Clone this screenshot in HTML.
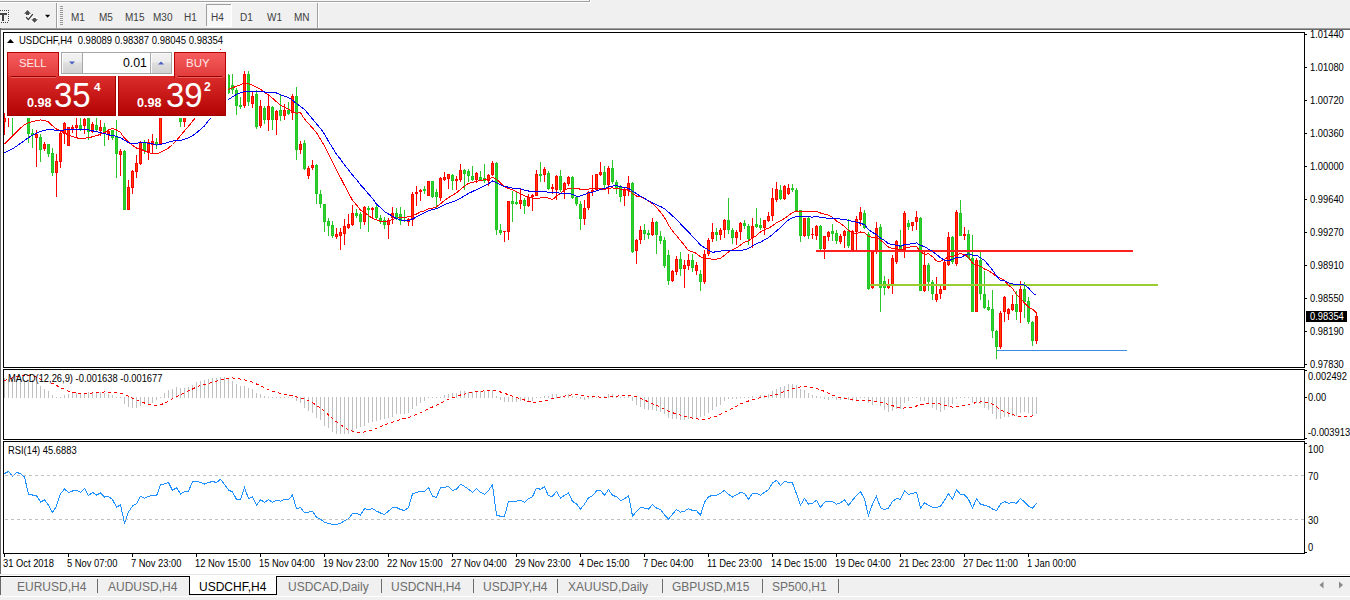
<!DOCTYPE html>
<html><head><meta charset="utf-8">
<style>
*{margin:0;padding:0;box-sizing:border-box}
html,body{width:1350px;height:600px;overflow:hidden;background:#f0f0f0;font-family:"Liberation Sans",sans-serif}
.a{position:absolute}
.ax{font-family:"Liberation Sans",sans-serif;font-size:10.3px;fill:#000}
.tf{position:absolute;top:13px;font-size:10px;color:#404040;line-height:10px;white-space:nowrap}
.tab{position:absolute;top:580px;font-size:12px;color:#6d6d6d;line-height:14px;white-space:nowrap}
.sep{position:absolute;top:579px;width:1px;height:14px;background:#6d6d6d}
</style></head><body>
<!-- top strip -->
<div class="a" style="left:0;top:0;width:590px;height:1px;background:#f7f7f7"></div>
<div class="a" style="left:0;top:1px;width:590px;height:1px;background:#a0a0a0"></div>
<div class="a" style="left:0;top:2px;width:591px;height:1px;background:#fff"></div>
<div class="a" style="left:589px;top:0;width:1px;height:2px;background:#a0a0a0"></div>
<div class="a" style="left:590px;top:0;width:1px;height:3px;background:#fff"></div>
<!-- toolbar icons -->
<svg class="a" style="left:0;top:0" width="330" height="28" viewBox="0 0 330 28">
 <g fill="#444">
  <rect x="0" y="10" width="1" height="1"/><rect x="2" y="10" width="1" height="1"/><rect x="4" y="10" width="1" height="1"/><rect x="6" y="10" width="1" height="1"/><rect x="8" y="10" width="1" height="1"/>
  <rect x="8" y="12" width="1" height="1"/><rect x="8" y="14" width="1" height="1"/><rect x="8" y="16" width="1" height="1"/><rect x="8" y="18" width="1" height="1"/><rect x="8" y="20" width="1" height="1"/>
  <rect x="1" y="22" width="1" height="1"/><rect x="3" y="22" width="1" height="1"/><rect x="5" y="22" width="1" height="1"/><rect x="7" y="22" width="1" height="1"/>
  <rect x="0" y="13" width="7" height="2"/><rect x="2" y="13" width="2" height="8"/>
 </g>
 <g fill="#fff" stroke="#fff" stroke-width="1.6" stroke-linejoin="round" opacity="0.8">
  <path d="M24,13.7 L27.5,10 L31,13.7 L29,13.7 L29,15 L26,15 L26,13.7 Z"/>
  <path d="M31.2,19.2 L33.2,19.2 L33.2,18 L35.8,18 L35.8,19.2 L38,19.2 L34.5,22.8 Z"/>
  <path d="M26.2,17.2 L28.4,19.6 L32.8,14.2" fill="none" stroke-width="3"/>
  <path d="M45,14.8 L50.2,14.8 L47.6,17.8 Z"/>
 </g>
 <g fill="#4d4d4d">
  <path d="M24,13.7 L27.5,10 L31,13.7 L29,13.7 L29,15 L26,15 L26,13.7 Z"/>
  <path d="M31.2,19.2 L33.2,19.2 L33.2,18 L35.8,18 L35.8,19.2 L38,19.2 L34.5,22.8 Z"/>
  <path d="M26.2,17.2 L28.4,19.6 L32.8,14.2" fill="none" stroke="#333" stroke-width="1.3"/>
 </g>
 <path d="M45,14.8 L50.2,14.8 L47.6,17.8 Z" fill="#000"/>
 <rect x="56" y="3" width="1" height="25" fill="#a0a0a0"/><rect x="57" y="3" width="1" height="25" fill="#fff"/>
 <g fill="#999">
  <rect x="60" y="6" width="3" height="1"/><rect x="60" y="8" width="3" height="1"/><rect x="60" y="10" width="3" height="1"/><rect x="60" y="12" width="3" height="1"/>
  <rect x="60" y="14" width="3" height="1"/><rect x="60" y="16" width="3" height="1"/><rect x="60" y="18" width="3" height="1"/><rect x="60" y="20" width="3" height="1"/>
  <rect x="60" y="22" width="3" height="1"/><rect x="60" y="24" width="3" height="1"/>
 </g>
 <rect x="206" y="4" width="26" height="23" fill="#f8f8f8"/>
 <rect x="206" y="4" width="25" height="1" fill="#a0a0a0"/><rect x="206" y="4" width="1" height="22" fill="#a0a0a0"/>
 <rect x="231" y="4" width="1" height="23" fill="#fff"/><rect x="206" y="26" width="26" height="1" fill="#fff"/>
 <rect x="317" y="3" width="1" height="25" fill="#a0a0a0"/><rect x="318" y="3" width="1" height="25" fill="#fff"/>
</svg>
<div class="tf" style="left:71px">M1</div>
<div class="tf" style="left:99px">M5</div>
<div class="tf" style="left:125px">M15</div>
<div class="tf" style="left:153px">M30</div>
<div class="tf" style="left:184px">H1</div>
<div class="tf" style="left:211px">H4</div>
<div class="tf" style="left:240px">D1</div>
<div class="tf" style="left:267px">W1</div>
<div class="tf" style="left:294px">MN</div>
<!-- chart area frame -->
<div class="a" style="left:0;top:28px;width:1350px;height:1px;background:#a0a0a0"></div>
<div class="a" style="left:0;top:29px;width:1350px;height:1px;background:#696969"></div>
<div class="a" style="left:1px;top:30px;width:1349px;height:544px;background:#fff"></div>
<div class="a" style="left:0;top:28px;width:1px;height:546px;background:#696969"></div>
<div class="a" style="left:0;top:577px;width:1px;height:18px;background:#696969"></div>
<div class="a" style="left:1px;top:574px;width:1349px;height:1px;background:#e6e6e6"></div>
<div class="a" style="left:1px;top:575px;width:1349px;height:1px;background:#fff"></div>
<div class="a" style="left:0;top:576px;width:1350px;height:1px;background:#000"></div>
<div class="a" style="left:1px;top:577px;width:1349px;height:1px;background:#fafafa"></div>
<div class="a" style="left:0;top:596px;width:1350px;height:1px;background:#fff"></div>
<svg width="1350" height="600" viewBox="0 0 1350 600" style="position:absolute;left:0;top:0">
<g shape-rendering="crispEdges">
<rect x="4" y="113" width="1" height="22" fill="#ff0000"/>
<rect x="3" y="118" width="3" height="4" fill="#ff0000"/>
<rect x="4" y="119" width="1" height="2" fill="#ff3c00"/>
<rect x="8" y="100" width="1" height="27" fill="#ff0000"/>
<rect x="7" y="105" width="3" height="9" fill="#ff0000"/>
<rect x="8" y="106" width="1" height="7" fill="#ff3c00"/>
<rect x="12" y="100" width="1" height="37" fill="#2ac82a"/>
<rect x="11" y="105" width="3" height="9" fill="#22c822"/>
<rect x="12" y="106" width="1" height="7" fill="#32cd32"/>
<rect x="16" y="90" width="1" height="22" fill="#2ac82a"/>
<rect x="15" y="95" width="3" height="13" fill="#22c822"/>
<rect x="16" y="96" width="1" height="11" fill="#32cd32"/>
<rect x="20" y="85" width="1" height="25" fill="#ff0000"/>
<rect x="19" y="92" width="3" height="13" fill="#ff0000"/>
<rect x="20" y="93" width="1" height="11" fill="#ff3c00"/>
<rect x="24" y="80" width="1" height="32" fill="#ff0000"/>
<rect x="23" y="85" width="3" height="15" fill="#ff0000"/>
<rect x="24" y="86" width="1" height="13" fill="#ff3c00"/>
<rect x="28" y="85" width="1" height="58" fill="#2ac82a"/>
<rect x="27" y="88" width="3" height="46" fill="#22c822"/>
<rect x="28" y="89" width="1" height="44" fill="#32cd32"/>
<rect x="32" y="129" width="1" height="19" fill="#2ac82a"/>
<rect x="31" y="133" width="3" height="2" fill="#22c822"/>
<rect x="36" y="130" width="1" height="37" fill="#ff0000"/>
<rect x="35" y="134" width="3" height="4" fill="#ff0000"/>
<rect x="36" y="135" width="1" height="2" fill="#ff3c00"/>
<rect x="40" y="134" width="1" height="28" fill="#2ac82a"/>
<rect x="39" y="137" width="3" height="13" fill="#22c822"/>
<rect x="40" y="138" width="1" height="11" fill="#32cd32"/>
<rect x="44" y="142" width="1" height="9" fill="#ff0000"/>
<rect x="43" y="144" width="3" height="5" fill="#ff0000"/>
<rect x="44" y="145" width="1" height="3" fill="#ff3c00"/>
<rect x="48" y="144" width="1" height="13" fill="#2ac82a"/>
<rect x="47" y="144" width="3" height="10" fill="#22c822"/>
<rect x="48" y="145" width="1" height="8" fill="#32cd32"/>
<rect x="52" y="148" width="1" height="28" fill="#2ac82a"/>
<rect x="51" y="153" width="3" height="20" fill="#22c822"/>
<rect x="52" y="154" width="1" height="18" fill="#32cd32"/>
<rect x="56" y="154" width="1" height="43" fill="#ff0000"/>
<rect x="55" y="161" width="3" height="12" fill="#ff0000"/>
<rect x="56" y="162" width="1" height="10" fill="#ff3c00"/>
<rect x="60" y="132" width="1" height="36" fill="#ff0000"/>
<rect x="59" y="133" width="3" height="29" fill="#ff0000"/>
<rect x="60" y="134" width="1" height="27" fill="#ff3c00"/>
<rect x="64" y="122" width="1" height="22" fill="#ff0000"/>
<rect x="63" y="123" width="3" height="11" fill="#ff0000"/>
<rect x="64" y="124" width="1" height="9" fill="#ff3c00"/>
<rect x="68" y="127" width="1" height="19" fill="#ff0000"/>
<rect x="67" y="127" width="3" height="19" fill="#ff0000"/>
<rect x="68" y="128" width="1" height="17" fill="#ff3c00"/>
<rect x="72" y="125" width="1" height="8" fill="#ff0000"/>
<rect x="71" y="127" width="3" height="2" fill="#ff0000"/>
<rect x="76" y="112" width="1" height="25" fill="#ff0000"/>
<rect x="75" y="125" width="3" height="3" fill="#ff0000"/>
<rect x="76" y="126" width="1" height="1" fill="#ff3c00"/>
<rect x="80" y="112" width="1" height="19" fill="#2ac82a"/>
<rect x="79" y="125" width="3" height="4" fill="#22c822"/>
<rect x="80" y="126" width="1" height="2" fill="#32cd32"/>
<rect x="84" y="112" width="1" height="22" fill="#ff0000"/>
<rect x="83" y="119" width="3" height="7" fill="#ff0000"/>
<rect x="84" y="120" width="1" height="5" fill="#ff3c00"/>
<rect x="88" y="110" width="1" height="30" fill="#2ac82a"/>
<rect x="87" y="116" width="3" height="16" fill="#22c822"/>
<rect x="88" y="117" width="1" height="14" fill="#32cd32"/>
<rect x="92" y="122" width="1" height="11" fill="#ff0000"/>
<rect x="91" y="124" width="3" height="8" fill="#ff0000"/>
<rect x="92" y="125" width="1" height="6" fill="#ff3c00"/>
<rect x="96" y="112" width="1" height="19" fill="#2ac82a"/>
<rect x="95" y="125" width="3" height="5" fill="#22c822"/>
<rect x="96" y="126" width="1" height="3" fill="#32cd32"/>
<rect x="100" y="120" width="1" height="16" fill="#ff0000"/>
<rect x="99" y="127" width="3" height="4" fill="#ff0000"/>
<rect x="100" y="128" width="1" height="2" fill="#ff3c00"/>
<rect x="104" y="123" width="1" height="23" fill="#2ac82a"/>
<rect x="103" y="127" width="3" height="7" fill="#22c822"/>
<rect x="104" y="128" width="1" height="5" fill="#32cd32"/>
<rect x="108" y="130" width="1" height="10" fill="#ff0000"/>
<rect x="107" y="131" width="3" height="3" fill="#ff0000"/>
<rect x="108" y="132" width="1" height="1" fill="#ff3c00"/>
<rect x="112" y="130" width="1" height="10" fill="#2ac82a"/>
<rect x="111" y="130" width="3" height="8" fill="#22c822"/>
<rect x="112" y="131" width="1" height="6" fill="#32cd32"/>
<rect x="116" y="120" width="1" height="58" fill="#2ac82a"/>
<rect x="115" y="136" width="3" height="18" fill="#22c822"/>
<rect x="116" y="137" width="1" height="16" fill="#32cd32"/>
<rect x="120" y="149" width="1" height="27" fill="#ff0000"/>
<rect x="119" y="151" width="3" height="4" fill="#ff0000"/>
<rect x="120" y="152" width="1" height="2" fill="#ff3c00"/>
<rect x="124" y="150" width="1" height="60" fill="#2ac82a"/>
<rect x="123" y="151" width="3" height="59" fill="#22c822"/>
<rect x="124" y="152" width="1" height="57" fill="#32cd32"/>
<rect x="128" y="180" width="1" height="30" fill="#ff0000"/>
<rect x="127" y="187" width="3" height="23" fill="#ff0000"/>
<rect x="128" y="188" width="1" height="21" fill="#ff3c00"/>
<rect x="132" y="170" width="1" height="24" fill="#ff0000"/>
<rect x="131" y="171" width="3" height="17" fill="#ff0000"/>
<rect x="132" y="172" width="1" height="15" fill="#ff3c00"/>
<rect x="136" y="155" width="1" height="23" fill="#ff0000"/>
<rect x="135" y="163" width="3" height="9" fill="#ff0000"/>
<rect x="136" y="164" width="1" height="7" fill="#ff3c00"/>
<rect x="140" y="141" width="1" height="24" fill="#ff0000"/>
<rect x="139" y="142" width="3" height="22" fill="#ff0000"/>
<rect x="140" y="143" width="1" height="20" fill="#ff3c00"/>
<rect x="144" y="140" width="1" height="14" fill="#2ac82a"/>
<rect x="143" y="142" width="3" height="9" fill="#22c822"/>
<rect x="144" y="143" width="1" height="7" fill="#32cd32"/>
<rect x="148" y="139" width="1" height="21" fill="#ff0000"/>
<rect x="147" y="142" width="3" height="10" fill="#ff0000"/>
<rect x="148" y="143" width="1" height="8" fill="#ff3c00"/>
<rect x="152" y="134" width="1" height="20" fill="#ff0000"/>
<rect x="151" y="141" width="3" height="4" fill="#ff0000"/>
<rect x="152" y="142" width="1" height="2" fill="#ff3c00"/>
<rect x="156" y="138" width="1" height="11" fill="#2ac82a"/>
<rect x="155" y="142" width="3" height="3" fill="#22c822"/>
<rect x="156" y="143" width="1" height="1" fill="#32cd32"/>
<rect x="160" y="105" width="1" height="39" fill="#ff0000"/>
<rect x="159" y="108" width="3" height="36" fill="#ff0000"/>
<rect x="160" y="109" width="1" height="34" fill="#ff3c00"/>
<rect x="164" y="100" width="1" height="18" fill="#2ac82a"/>
<rect x="163" y="104" width="3" height="8" fill="#22c822"/>
<rect x="164" y="105" width="1" height="6" fill="#32cd32"/>
<rect x="168" y="95" width="1" height="19" fill="#ff0000"/>
<rect x="167" y="100" width="3" height="10" fill="#ff0000"/>
<rect x="168" y="101" width="1" height="8" fill="#ff3c00"/>
<rect x="172" y="90" width="1" height="22" fill="#ff0000"/>
<rect x="171" y="95" width="3" height="9" fill="#ff0000"/>
<rect x="172" y="96" width="1" height="7" fill="#ff3c00"/>
<rect x="176" y="92" width="1" height="26" fill="#ff0000"/>
<rect x="175" y="96" width="3" height="12" fill="#ff0000"/>
<rect x="176" y="97" width="1" height="10" fill="#ff3c00"/>
<rect x="180" y="100" width="1" height="27" fill="#2ac82a"/>
<rect x="179" y="105" width="3" height="17" fill="#22c822"/>
<rect x="180" y="106" width="1" height="15" fill="#32cd32"/>
<rect x="184" y="100" width="1" height="27" fill="#ff0000"/>
<rect x="183" y="108" width="3" height="14" fill="#ff0000"/>
<rect x="184" y="109" width="1" height="12" fill="#ff3c00"/>
<rect x="188" y="90" width="1" height="28" fill="#ff0000"/>
<rect x="187" y="95" width="3" height="13" fill="#ff0000"/>
<rect x="188" y="96" width="1" height="11" fill="#ff3c00"/>
<rect x="192" y="80" width="1" height="25" fill="#ff0000"/>
<rect x="191" y="85" width="3" height="15" fill="#ff0000"/>
<rect x="192" y="86" width="1" height="13" fill="#ff3c00"/>
<rect x="196" y="78" width="1" height="22" fill="#2ac82a"/>
<rect x="195" y="82" width="3" height="13" fill="#22c822"/>
<rect x="196" y="83" width="1" height="11" fill="#32cd32"/>
<rect x="200" y="70" width="1" height="26" fill="#ff0000"/>
<rect x="199" y="74" width="3" height="18" fill="#ff0000"/>
<rect x="200" y="75" width="1" height="16" fill="#ff3c00"/>
<rect x="204" y="62" width="1" height="28" fill="#ff0000"/>
<rect x="203" y="66" width="3" height="14" fill="#ff0000"/>
<rect x="204" y="67" width="1" height="12" fill="#ff3c00"/>
<rect x="208" y="60" width="1" height="25" fill="#2ac82a"/>
<rect x="207" y="65" width="3" height="13" fill="#22c822"/>
<rect x="208" y="66" width="1" height="11" fill="#32cd32"/>
<rect x="212" y="55" width="1" height="27" fill="#ff0000"/>
<rect x="211" y="60" width="3" height="16" fill="#ff0000"/>
<rect x="212" y="61" width="1" height="14" fill="#ff3c00"/>
<rect x="216" y="58" width="1" height="28" fill="#2ac82a"/>
<rect x="215" y="62" width="3" height="18" fill="#22c822"/>
<rect x="216" y="63" width="1" height="16" fill="#32cd32"/>
<rect x="220" y="49" width="1" height="31" fill="#ff0000"/>
<rect x="219" y="55" width="3" height="20" fill="#ff0000"/>
<rect x="220" y="56" width="1" height="18" fill="#ff3c00"/>
<rect x="224" y="60" width="1" height="30" fill="#2ac82a"/>
<rect x="223" y="65" width="3" height="20" fill="#22c822"/>
<rect x="224" y="66" width="1" height="18" fill="#32cd32"/>
<rect x="228" y="74" width="1" height="20" fill="#2ac82a"/>
<rect x="227" y="75" width="3" height="18" fill="#22c822"/>
<rect x="228" y="76" width="1" height="16" fill="#32cd32"/>
<rect x="232" y="74" width="1" height="20" fill="#2ac82a"/>
<rect x="231" y="85" width="3" height="5" fill="#22c822"/>
<rect x="232" y="86" width="1" height="3" fill="#32cd32"/>
<rect x="236" y="88" width="1" height="27" fill="#2ac82a"/>
<rect x="235" y="90" width="3" height="16" fill="#22c822"/>
<rect x="236" y="91" width="1" height="14" fill="#32cd32"/>
<rect x="240" y="97" width="1" height="12" fill="#2ac82a"/>
<rect x="239" y="105" width="3" height="2" fill="#22c822"/>
<rect x="244" y="71" width="1" height="37" fill="#ff0000"/>
<rect x="243" y="74" width="3" height="32" fill="#ff0000"/>
<rect x="244" y="75" width="1" height="30" fill="#ff3c00"/>
<rect x="248" y="71" width="1" height="35" fill="#2ac82a"/>
<rect x="247" y="74" width="3" height="28" fill="#22c822"/>
<rect x="248" y="75" width="1" height="26" fill="#32cd32"/>
<rect x="252" y="91" width="1" height="17" fill="#ff0000"/>
<rect x="251" y="96" width="3" height="8" fill="#ff0000"/>
<rect x="252" y="97" width="1" height="6" fill="#ff3c00"/>
<rect x="256" y="90" width="1" height="39" fill="#2ac82a"/>
<rect x="255" y="94" width="3" height="33" fill="#22c822"/>
<rect x="256" y="95" width="1" height="31" fill="#32cd32"/>
<rect x="260" y="100" width="1" height="28" fill="#ff0000"/>
<rect x="259" y="106" width="3" height="20" fill="#ff0000"/>
<rect x="260" y="107" width="1" height="18" fill="#ff3c00"/>
<rect x="264" y="106" width="1" height="18" fill="#2ac82a"/>
<rect x="263" y="108" width="3" height="12" fill="#22c822"/>
<rect x="264" y="109" width="1" height="10" fill="#32cd32"/>
<rect x="268" y="95" width="1" height="36" fill="#ff0000"/>
<rect x="267" y="106" width="3" height="14" fill="#ff0000"/>
<rect x="268" y="107" width="1" height="12" fill="#ff3c00"/>
<rect x="272" y="106" width="1" height="24" fill="#2ac82a"/>
<rect x="271" y="107" width="3" height="13" fill="#22c822"/>
<rect x="272" y="108" width="1" height="11" fill="#32cd32"/>
<rect x="276" y="110" width="1" height="25" fill="#ff0000"/>
<rect x="275" y="111" width="3" height="9" fill="#ff0000"/>
<rect x="276" y="112" width="1" height="7" fill="#ff3c00"/>
<rect x="280" y="95" width="1" height="26" fill="#2ac82a"/>
<rect x="279" y="110" width="3" height="6" fill="#22c822"/>
<rect x="280" y="111" width="1" height="4" fill="#32cd32"/>
<rect x="284" y="104" width="1" height="16" fill="#ff0000"/>
<rect x="283" y="110" width="3" height="6" fill="#ff0000"/>
<rect x="284" y="111" width="1" height="4" fill="#ff3c00"/>
<rect x="288" y="102" width="1" height="13" fill="#2ac82a"/>
<rect x="287" y="110" width="3" height="4" fill="#22c822"/>
<rect x="288" y="111" width="1" height="2" fill="#32cd32"/>
<rect x="292" y="94" width="1" height="26" fill="#ff0000"/>
<rect x="291" y="96" width="3" height="17" fill="#ff0000"/>
<rect x="292" y="97" width="1" height="15" fill="#ff3c00"/>
<rect x="296" y="87" width="1" height="73" fill="#2ac82a"/>
<rect x="295" y="96" width="3" height="54" fill="#22c822"/>
<rect x="296" y="97" width="1" height="52" fill="#32cd32"/>
<rect x="300" y="141" width="1" height="13" fill="#ff0000"/>
<rect x="299" y="144" width="3" height="6" fill="#ff0000"/>
<rect x="300" y="145" width="1" height="4" fill="#ff3c00"/>
<rect x="304" y="140" width="1" height="30" fill="#2ac82a"/>
<rect x="303" y="143" width="3" height="26" fill="#22c822"/>
<rect x="304" y="144" width="1" height="24" fill="#32cd32"/>
<rect x="308" y="166" width="1" height="13" fill="#ff0000"/>
<rect x="307" y="168" width="3" height="8" fill="#ff0000"/>
<rect x="308" y="169" width="1" height="6" fill="#ff3c00"/>
<rect x="312" y="160" width="1" height="10" fill="#ff0000"/>
<rect x="311" y="165" width="3" height="3" fill="#ff0000"/>
<rect x="312" y="166" width="1" height="1" fill="#ff3c00"/>
<rect x="316" y="164" width="1" height="40" fill="#2ac82a"/>
<rect x="315" y="165" width="3" height="29" fill="#22c822"/>
<rect x="316" y="166" width="1" height="27" fill="#32cd32"/>
<rect x="320" y="190" width="1" height="18" fill="#2ac82a"/>
<rect x="319" y="194" width="3" height="10" fill="#22c822"/>
<rect x="320" y="195" width="1" height="8" fill="#32cd32"/>
<rect x="324" y="204" width="1" height="28" fill="#2ac82a"/>
<rect x="323" y="204" width="3" height="18" fill="#22c822"/>
<rect x="324" y="205" width="1" height="16" fill="#32cd32"/>
<rect x="328" y="218" width="1" height="18" fill="#2ac82a"/>
<rect x="327" y="221" width="3" height="5" fill="#22c822"/>
<rect x="328" y="222" width="1" height="3" fill="#32cd32"/>
<rect x="332" y="221" width="1" height="17" fill="#2ac82a"/>
<rect x="331" y="225" width="3" height="11" fill="#22c822"/>
<rect x="332" y="226" width="1" height="9" fill="#32cd32"/>
<rect x="336" y="228" width="1" height="11" fill="#ff0000"/>
<rect x="335" y="234" width="3" height="3" fill="#ff0000"/>
<rect x="336" y="235" width="1" height="1" fill="#ff3c00"/>
<rect x="340" y="228" width="1" height="22" fill="#ff0000"/>
<rect x="339" y="232" width="3" height="4" fill="#ff0000"/>
<rect x="340" y="233" width="1" height="2" fill="#ff3c00"/>
<rect x="344" y="219" width="1" height="26" fill="#ff0000"/>
<rect x="343" y="226" width="3" height="8" fill="#ff0000"/>
<rect x="344" y="227" width="1" height="6" fill="#ff3c00"/>
<rect x="348" y="214" width="1" height="15" fill="#ff0000"/>
<rect x="347" y="224" width="3" height="4" fill="#ff0000"/>
<rect x="348" y="225" width="1" height="2" fill="#ff3c00"/>
<rect x="352" y="205" width="1" height="21" fill="#ff0000"/>
<rect x="351" y="213" width="3" height="12" fill="#ff0000"/>
<rect x="352" y="214" width="1" height="10" fill="#ff3c00"/>
<rect x="356" y="209" width="1" height="9" fill="#2ac82a"/>
<rect x="355" y="213" width="3" height="3" fill="#22c822"/>
<rect x="356" y="214" width="1" height="1" fill="#32cd32"/>
<rect x="360" y="212" width="1" height="17" fill="#2ac82a"/>
<rect x="359" y="214" width="3" height="8" fill="#22c822"/>
<rect x="360" y="215" width="1" height="6" fill="#32cd32"/>
<rect x="364" y="206" width="1" height="19" fill="#ff0000"/>
<rect x="363" y="207" width="3" height="15" fill="#ff0000"/>
<rect x="364" y="208" width="1" height="13" fill="#ff3c00"/>
<rect x="368" y="206" width="1" height="26" fill="#2ac82a"/>
<rect x="367" y="208" width="3" height="2" fill="#22c822"/>
<rect x="372" y="207" width="1" height="11" fill="#ff0000"/>
<rect x="371" y="208" width="3" height="2" fill="#ff0000"/>
<rect x="376" y="205" width="1" height="15" fill="#2ac82a"/>
<rect x="375" y="207" width="3" height="11" fill="#22c822"/>
<rect x="376" y="208" width="1" height="9" fill="#32cd32"/>
<rect x="380" y="215" width="1" height="9" fill="#2ac82a"/>
<rect x="379" y="218" width="3" height="4" fill="#22c822"/>
<rect x="380" y="219" width="1" height="2" fill="#32cd32"/>
<rect x="384" y="217" width="1" height="12" fill="#2ac82a"/>
<rect x="383" y="220" width="3" height="5" fill="#22c822"/>
<rect x="384" y="221" width="1" height="3" fill="#32cd32"/>
<rect x="388" y="218" width="1" height="21" fill="#ff0000"/>
<rect x="387" y="220" width="3" height="5" fill="#ff0000"/>
<rect x="388" y="221" width="1" height="3" fill="#ff3c00"/>
<rect x="392" y="207" width="1" height="17" fill="#ff0000"/>
<rect x="391" y="213" width="3" height="5" fill="#ff0000"/>
<rect x="392" y="214" width="1" height="3" fill="#ff3c00"/>
<rect x="396" y="208" width="1" height="12" fill="#2ac82a"/>
<rect x="395" y="213" width="3" height="5" fill="#22c822"/>
<rect x="396" y="214" width="1" height="3" fill="#32cd32"/>
<rect x="400" y="207" width="1" height="18" fill="#2ac82a"/>
<rect x="399" y="214" width="3" height="7" fill="#22c822"/>
<rect x="400" y="215" width="1" height="5" fill="#32cd32"/>
<rect x="404" y="210" width="1" height="12" fill="#2ac82a"/>
<rect x="403" y="220" width="3" height="1" fill="#22c822"/>
<rect x="408" y="218" width="1" height="8" fill="#ff0000"/>
<rect x="407" y="219" width="3" height="3" fill="#ff0000"/>
<rect x="408" y="220" width="1" height="1" fill="#ff3c00"/>
<rect x="412" y="192" width="1" height="34" fill="#ff0000"/>
<rect x="411" y="194" width="3" height="26" fill="#ff0000"/>
<rect x="412" y="195" width="1" height="24" fill="#ff3c00"/>
<rect x="416" y="186" width="1" height="20" fill="#ff0000"/>
<rect x="415" y="192" width="3" height="2" fill="#ff0000"/>
<rect x="420" y="189" width="1" height="12" fill="#ff0000"/>
<rect x="419" y="190" width="3" height="2" fill="#ff0000"/>
<rect x="424" y="186" width="1" height="8" fill="#2ac82a"/>
<rect x="423" y="189" width="3" height="2" fill="#22c822"/>
<rect x="428" y="181" width="1" height="15" fill="#ff0000"/>
<rect x="427" y="181" width="3" height="15" fill="#ff0000"/>
<rect x="428" y="182" width="1" height="13" fill="#ff3c00"/>
<rect x="432" y="181" width="1" height="17" fill="#2ac82a"/>
<rect x="431" y="181" width="3" height="16" fill="#22c822"/>
<rect x="432" y="182" width="1" height="14" fill="#32cd32"/>
<rect x="436" y="189" width="1" height="19" fill="#2ac82a"/>
<rect x="435" y="192" width="3" height="5" fill="#22c822"/>
<rect x="436" y="193" width="1" height="3" fill="#32cd32"/>
<rect x="440" y="177" width="1" height="24" fill="#ff0000"/>
<rect x="439" y="178" width="3" height="20" fill="#ff0000"/>
<rect x="440" y="179" width="1" height="18" fill="#ff3c00"/>
<rect x="444" y="172" width="1" height="9" fill="#ff0000"/>
<rect x="443" y="177" width="3" height="3" fill="#ff0000"/>
<rect x="444" y="178" width="1" height="1" fill="#ff3c00"/>
<rect x="448" y="174" width="1" height="15" fill="#ff0000"/>
<rect x="447" y="174" width="3" height="5" fill="#ff0000"/>
<rect x="448" y="175" width="1" height="3" fill="#ff3c00"/>
<rect x="452" y="174" width="1" height="16" fill="#2ac82a"/>
<rect x="451" y="175" width="3" height="6" fill="#22c822"/>
<rect x="452" y="176" width="1" height="4" fill="#32cd32"/>
<rect x="456" y="176" width="1" height="14" fill="#ff0000"/>
<rect x="455" y="179" width="3" height="2" fill="#ff0000"/>
<rect x="460" y="164" width="1" height="18" fill="#ff0000"/>
<rect x="459" y="170" width="3" height="10" fill="#ff0000"/>
<rect x="460" y="171" width="1" height="8" fill="#ff3c00"/>
<rect x="464" y="169" width="1" height="21" fill="#2ac82a"/>
<rect x="463" y="170" width="3" height="4" fill="#22c822"/>
<rect x="464" y="171" width="1" height="2" fill="#32cd32"/>
<rect x="468" y="169" width="1" height="13" fill="#2ac82a"/>
<rect x="467" y="171" width="3" height="5" fill="#22c822"/>
<rect x="468" y="172" width="1" height="3" fill="#32cd32"/>
<rect x="472" y="166" width="1" height="15" fill="#2ac82a"/>
<rect x="471" y="176" width="3" height="4" fill="#22c822"/>
<rect x="472" y="177" width="1" height="2" fill="#32cd32"/>
<rect x="476" y="172" width="1" height="11" fill="#ff0000"/>
<rect x="475" y="173" width="3" height="7" fill="#ff0000"/>
<rect x="476" y="174" width="1" height="5" fill="#ff3c00"/>
<rect x="480" y="171" width="1" height="10" fill="#2ac82a"/>
<rect x="479" y="177" width="3" height="3" fill="#22c822"/>
<rect x="480" y="178" width="1" height="1" fill="#32cd32"/>
<rect x="484" y="164" width="1" height="19" fill="#2ac82a"/>
<rect x="483" y="178" width="3" height="3" fill="#22c822"/>
<rect x="484" y="179" width="1" height="1" fill="#32cd32"/>
<rect x="488" y="174" width="1" height="12" fill="#ff0000"/>
<rect x="487" y="175" width="3" height="6" fill="#ff0000"/>
<rect x="488" y="176" width="1" height="4" fill="#ff3c00"/>
<rect x="492" y="161" width="1" height="15" fill="#ff0000"/>
<rect x="491" y="163" width="3" height="12" fill="#ff0000"/>
<rect x="492" y="164" width="1" height="10" fill="#ff3c00"/>
<rect x="496" y="162" width="1" height="73" fill="#2ac82a"/>
<rect x="495" y="163" width="3" height="67" fill="#22c822"/>
<rect x="496" y="164" width="1" height="65" fill="#32cd32"/>
<rect x="500" y="224" width="1" height="11" fill="#2ac82a"/>
<rect x="499" y="230" width="3" height="3" fill="#22c822"/>
<rect x="500" y="231" width="1" height="1" fill="#32cd32"/>
<rect x="504" y="231" width="1" height="11" fill="#ff0000"/>
<rect x="503" y="231" width="3" height="1" fill="#ff0000"/>
<rect x="508" y="201" width="1" height="39" fill="#ff0000"/>
<rect x="507" y="201" width="3" height="31" fill="#ff0000"/>
<rect x="508" y="202" width="1" height="29" fill="#ff3c00"/>
<rect x="512" y="191" width="1" height="31" fill="#2ac82a"/>
<rect x="511" y="201" width="3" height="3" fill="#22c822"/>
<rect x="512" y="202" width="1" height="1" fill="#32cd32"/>
<rect x="516" y="192" width="1" height="13" fill="#2ac82a"/>
<rect x="515" y="202" width="3" height="2" fill="#22c822"/>
<rect x="520" y="189" width="1" height="20" fill="#ff0000"/>
<rect x="519" y="200" width="3" height="4" fill="#ff0000"/>
<rect x="520" y="201" width="1" height="2" fill="#ff3c00"/>
<rect x="524" y="198" width="1" height="16" fill="#2ac82a"/>
<rect x="523" y="200" width="3" height="6" fill="#22c822"/>
<rect x="524" y="201" width="1" height="4" fill="#32cd32"/>
<rect x="528" y="194" width="1" height="13" fill="#ff0000"/>
<rect x="527" y="197" width="3" height="9" fill="#ff0000"/>
<rect x="528" y="198" width="1" height="7" fill="#ff3c00"/>
<rect x="532" y="194" width="1" height="17" fill="#ff0000"/>
<rect x="531" y="195" width="3" height="2" fill="#ff0000"/>
<rect x="536" y="170" width="1" height="26" fill="#ff0000"/>
<rect x="535" y="174" width="3" height="22" fill="#ff0000"/>
<rect x="536" y="175" width="1" height="20" fill="#ff3c00"/>
<rect x="540" y="162" width="1" height="20" fill="#2ac82a"/>
<rect x="539" y="174" width="3" height="2" fill="#22c822"/>
<rect x="544" y="167" width="1" height="15" fill="#ff0000"/>
<rect x="543" y="169" width="3" height="6" fill="#ff0000"/>
<rect x="544" y="170" width="1" height="4" fill="#ff3c00"/>
<rect x="548" y="171" width="1" height="19" fill="#2ac82a"/>
<rect x="547" y="173" width="3" height="16" fill="#22c822"/>
<rect x="548" y="174" width="1" height="14" fill="#32cd32"/>
<rect x="552" y="184" width="1" height="10" fill="#ff0000"/>
<rect x="551" y="187" width="3" height="2" fill="#ff0000"/>
<rect x="556" y="175" width="1" height="25" fill="#ff0000"/>
<rect x="555" y="176" width="3" height="14" fill="#ff0000"/>
<rect x="556" y="177" width="1" height="12" fill="#ff3c00"/>
<rect x="560" y="170" width="1" height="22" fill="#2ac82a"/>
<rect x="559" y="176" width="3" height="14" fill="#22c822"/>
<rect x="560" y="177" width="1" height="12" fill="#32cd32"/>
<rect x="564" y="182" width="1" height="17" fill="#ff0000"/>
<rect x="563" y="183" width="3" height="7" fill="#ff0000"/>
<rect x="564" y="184" width="1" height="5" fill="#ff3c00"/>
<rect x="568" y="176" width="1" height="10" fill="#ff0000"/>
<rect x="567" y="177" width="3" height="7" fill="#ff0000"/>
<rect x="568" y="178" width="1" height="5" fill="#ff3c00"/>
<rect x="572" y="176" width="1" height="23" fill="#2ac82a"/>
<rect x="571" y="177" width="3" height="21" fill="#22c822"/>
<rect x="572" y="178" width="1" height="19" fill="#32cd32"/>
<rect x="576" y="196" width="1" height="10" fill="#2ac82a"/>
<rect x="575" y="197" width="3" height="7" fill="#22c822"/>
<rect x="576" y="198" width="1" height="5" fill="#32cd32"/>
<rect x="580" y="201" width="1" height="29" fill="#2ac82a"/>
<rect x="579" y="204" width="3" height="15" fill="#22c822"/>
<rect x="580" y="205" width="1" height="13" fill="#32cd32"/>
<rect x="584" y="200" width="1" height="25" fill="#ff0000"/>
<rect x="583" y="208" width="3" height="11" fill="#ff0000"/>
<rect x="584" y="209" width="1" height="9" fill="#ff3c00"/>
<rect x="588" y="191" width="1" height="19" fill="#ff0000"/>
<rect x="587" y="192" width="3" height="16" fill="#ff0000"/>
<rect x="588" y="193" width="1" height="14" fill="#ff3c00"/>
<rect x="592" y="175" width="1" height="21" fill="#ff0000"/>
<rect x="591" y="190" width="3" height="2" fill="#ff0000"/>
<rect x="596" y="174" width="1" height="17" fill="#ff0000"/>
<rect x="595" y="174" width="3" height="16" fill="#ff0000"/>
<rect x="596" y="175" width="1" height="14" fill="#ff3c00"/>
<rect x="600" y="162" width="1" height="14" fill="#ff0000"/>
<rect x="599" y="172" width="3" height="3" fill="#ff0000"/>
<rect x="600" y="173" width="1" height="1" fill="#ff3c00"/>
<rect x="604" y="166" width="1" height="23" fill="#2ac82a"/>
<rect x="603" y="172" width="3" height="13" fill="#22c822"/>
<rect x="604" y="173" width="1" height="11" fill="#32cd32"/>
<rect x="608" y="166" width="1" height="28" fill="#ff0000"/>
<rect x="607" y="168" width="3" height="17" fill="#ff0000"/>
<rect x="608" y="169" width="1" height="15" fill="#ff3c00"/>
<rect x="612" y="160" width="1" height="24" fill="#2ac82a"/>
<rect x="611" y="168" width="3" height="14" fill="#22c822"/>
<rect x="612" y="169" width="1" height="12" fill="#32cd32"/>
<rect x="616" y="180" width="1" height="14" fill="#2ac82a"/>
<rect x="615" y="182" width="3" height="6" fill="#22c822"/>
<rect x="616" y="183" width="1" height="4" fill="#32cd32"/>
<rect x="620" y="185" width="1" height="17" fill="#2ac82a"/>
<rect x="619" y="187" width="3" height="10" fill="#22c822"/>
<rect x="620" y="188" width="1" height="8" fill="#32cd32"/>
<rect x="624" y="187" width="1" height="19" fill="#ff0000"/>
<rect x="623" y="190" width="3" height="6" fill="#ff0000"/>
<rect x="624" y="191" width="1" height="4" fill="#ff3c00"/>
<rect x="628" y="176" width="1" height="20" fill="#ff0000"/>
<rect x="627" y="183" width="3" height="8" fill="#ff0000"/>
<rect x="628" y="184" width="1" height="6" fill="#ff3c00"/>
<rect x="632" y="182" width="1" height="71" fill="#2ac82a"/>
<rect x="631" y="183" width="3" height="69" fill="#22c822"/>
<rect x="632" y="184" width="1" height="67" fill="#32cd32"/>
<rect x="636" y="239" width="1" height="25" fill="#ff0000"/>
<rect x="635" y="240" width="3" height="11" fill="#ff0000"/>
<rect x="636" y="241" width="1" height="9" fill="#ff3c00"/>
<rect x="640" y="226" width="1" height="18" fill="#ff0000"/>
<rect x="639" y="230" width="3" height="10" fill="#ff0000"/>
<rect x="640" y="231" width="1" height="8" fill="#ff3c00"/>
<rect x="644" y="224" width="1" height="16" fill="#2ac82a"/>
<rect x="643" y="230" width="3" height="4" fill="#22c822"/>
<rect x="644" y="231" width="1" height="2" fill="#32cd32"/>
<rect x="648" y="230" width="1" height="9" fill="#2ac82a"/>
<rect x="647" y="233" width="3" height="2" fill="#22c822"/>
<rect x="652" y="218" width="1" height="18" fill="#ff0000"/>
<rect x="651" y="222" width="3" height="13" fill="#ff0000"/>
<rect x="652" y="223" width="1" height="11" fill="#ff3c00"/>
<rect x="656" y="221" width="1" height="33" fill="#2ac82a"/>
<rect x="655" y="222" width="3" height="13" fill="#22c822"/>
<rect x="656" y="223" width="1" height="11" fill="#32cd32"/>
<rect x="660" y="231" width="1" height="13" fill="#2ac82a"/>
<rect x="659" y="236" width="3" height="5" fill="#22c822"/>
<rect x="660" y="237" width="1" height="3" fill="#32cd32"/>
<rect x="664" y="237" width="1" height="31" fill="#2ac82a"/>
<rect x="663" y="240" width="3" height="26" fill="#22c822"/>
<rect x="664" y="241" width="1" height="24" fill="#32cd32"/>
<rect x="668" y="250" width="1" height="35" fill="#2ac82a"/>
<rect x="667" y="255" width="3" height="26" fill="#22c822"/>
<rect x="668" y="256" width="1" height="24" fill="#32cd32"/>
<rect x="672" y="270" width="1" height="12" fill="#ff0000"/>
<rect x="671" y="271" width="3" height="10" fill="#ff0000"/>
<rect x="672" y="272" width="1" height="8" fill="#ff3c00"/>
<rect x="676" y="256" width="1" height="19" fill="#ff0000"/>
<rect x="675" y="259" width="3" height="13" fill="#ff0000"/>
<rect x="676" y="260" width="1" height="11" fill="#ff3c00"/>
<rect x="680" y="252" width="1" height="24" fill="#2ac82a"/>
<rect x="679" y="259" width="3" height="10" fill="#22c822"/>
<rect x="680" y="260" width="1" height="8" fill="#32cd32"/>
<rect x="684" y="260" width="1" height="28" fill="#ff0000"/>
<rect x="683" y="265" width="3" height="4" fill="#ff0000"/>
<rect x="684" y="266" width="1" height="2" fill="#ff3c00"/>
<rect x="688" y="254" width="1" height="16" fill="#ff0000"/>
<rect x="687" y="260" width="3" height="6" fill="#ff0000"/>
<rect x="688" y="261" width="1" height="4" fill="#ff3c00"/>
<rect x="692" y="254" width="1" height="18" fill="#2ac82a"/>
<rect x="691" y="260" width="3" height="8" fill="#22c822"/>
<rect x="692" y="261" width="1" height="6" fill="#32cd32"/>
<rect x="696" y="262" width="1" height="13" fill="#ff0000"/>
<rect x="695" y="265" width="3" height="6" fill="#ff0000"/>
<rect x="696" y="266" width="1" height="4" fill="#ff3c00"/>
<rect x="700" y="270" width="1" height="21" fill="#2ac82a"/>
<rect x="699" y="274" width="3" height="8" fill="#22c822"/>
<rect x="700" y="275" width="1" height="6" fill="#32cd32"/>
<rect x="704" y="250" width="1" height="34" fill="#ff0000"/>
<rect x="703" y="254" width="3" height="28" fill="#ff0000"/>
<rect x="704" y="255" width="1" height="26" fill="#ff3c00"/>
<rect x="708" y="238" width="1" height="18" fill="#ff0000"/>
<rect x="707" y="240" width="3" height="14" fill="#ff0000"/>
<rect x="708" y="241" width="1" height="12" fill="#ff3c00"/>
<rect x="712" y="223" width="1" height="19" fill="#ff0000"/>
<rect x="711" y="232" width="3" height="7" fill="#ff0000"/>
<rect x="712" y="233" width="1" height="5" fill="#ff3c00"/>
<rect x="716" y="228" width="1" height="13" fill="#2ac82a"/>
<rect x="715" y="232" width="3" height="3" fill="#22c822"/>
<rect x="716" y="233" width="1" height="1" fill="#32cd32"/>
<rect x="720" y="228" width="1" height="12" fill="#ff0000"/>
<rect x="719" y="230" width="3" height="5" fill="#ff0000"/>
<rect x="720" y="231" width="1" height="3" fill="#ff3c00"/>
<rect x="724" y="219" width="1" height="19" fill="#ff0000"/>
<rect x="723" y="220" width="3" height="10" fill="#ff0000"/>
<rect x="724" y="221" width="1" height="8" fill="#ff3c00"/>
<rect x="728" y="198" width="1" height="36" fill="#2ac82a"/>
<rect x="727" y="220" width="3" height="10" fill="#22c822"/>
<rect x="728" y="221" width="1" height="8" fill="#32cd32"/>
<rect x="732" y="228" width="1" height="16" fill="#2ac82a"/>
<rect x="731" y="230" width="3" height="8" fill="#22c822"/>
<rect x="732" y="231" width="1" height="6" fill="#32cd32"/>
<rect x="736" y="230" width="1" height="15" fill="#ff0000"/>
<rect x="735" y="232" width="3" height="6" fill="#ff0000"/>
<rect x="736" y="233" width="1" height="4" fill="#ff3c00"/>
<rect x="740" y="222" width="1" height="18" fill="#ff0000"/>
<rect x="739" y="223" width="3" height="9" fill="#ff0000"/>
<rect x="740" y="224" width="1" height="7" fill="#ff3c00"/>
<rect x="744" y="220" width="1" height="9" fill="#2ac82a"/>
<rect x="743" y="223" width="3" height="3" fill="#22c822"/>
<rect x="744" y="224" width="1" height="1" fill="#32cd32"/>
<rect x="748" y="224" width="1" height="21" fill="#2ac82a"/>
<rect x="747" y="226" width="3" height="13" fill="#22c822"/>
<rect x="748" y="227" width="1" height="11" fill="#32cd32"/>
<rect x="752" y="218" width="1" height="30" fill="#ff0000"/>
<rect x="751" y="226" width="3" height="12" fill="#ff0000"/>
<rect x="752" y="227" width="1" height="10" fill="#ff3c00"/>
<rect x="756" y="208" width="1" height="20" fill="#2ac82a"/>
<rect x="755" y="224" width="3" height="3" fill="#22c822"/>
<rect x="756" y="225" width="1" height="1" fill="#32cd32"/>
<rect x="760" y="218" width="1" height="12" fill="#2ac82a"/>
<rect x="759" y="225" width="3" height="3" fill="#22c822"/>
<rect x="760" y="226" width="1" height="1" fill="#32cd32"/>
<rect x="764" y="220" width="1" height="15" fill="#ff0000"/>
<rect x="763" y="220" width="3" height="8" fill="#ff0000"/>
<rect x="764" y="221" width="1" height="6" fill="#ff3c00"/>
<rect x="768" y="212" width="1" height="10" fill="#ff0000"/>
<rect x="767" y="216" width="3" height="5" fill="#ff0000"/>
<rect x="768" y="217" width="1" height="3" fill="#ff3c00"/>
<rect x="772" y="188" width="1" height="33" fill="#ff0000"/>
<rect x="771" y="198" width="3" height="18" fill="#ff0000"/>
<rect x="772" y="199" width="1" height="16" fill="#ff3c00"/>
<rect x="776" y="182" width="1" height="20" fill="#ff0000"/>
<rect x="775" y="189" width="3" height="11" fill="#ff0000"/>
<rect x="776" y="190" width="1" height="9" fill="#ff3c00"/>
<rect x="780" y="185" width="1" height="15" fill="#2ac82a"/>
<rect x="779" y="190" width="3" height="9" fill="#22c822"/>
<rect x="780" y="191" width="1" height="7" fill="#32cd32"/>
<rect x="784" y="185" width="1" height="15" fill="#ff0000"/>
<rect x="783" y="186" width="3" height="13" fill="#ff0000"/>
<rect x="784" y="187" width="1" height="11" fill="#ff3c00"/>
<rect x="788" y="184" width="1" height="11" fill="#ff0000"/>
<rect x="787" y="188" width="3" height="6" fill="#ff0000"/>
<rect x="788" y="189" width="1" height="4" fill="#ff3c00"/>
<rect x="792" y="184" width="1" height="8" fill="#2ac82a"/>
<rect x="791" y="188" width="3" height="2" fill="#22c822"/>
<rect x="796" y="188" width="1" height="24" fill="#2ac82a"/>
<rect x="795" y="190" width="3" height="21" fill="#22c822"/>
<rect x="796" y="191" width="1" height="19" fill="#32cd32"/>
<rect x="800" y="210" width="1" height="32" fill="#2ac82a"/>
<rect x="799" y="210" width="3" height="26" fill="#22c822"/>
<rect x="800" y="211" width="1" height="24" fill="#32cd32"/>
<rect x="804" y="218" width="1" height="19" fill="#ff0000"/>
<rect x="803" y="218" width="3" height="18" fill="#ff0000"/>
<rect x="804" y="219" width="1" height="16" fill="#ff3c00"/>
<rect x="808" y="217" width="1" height="22" fill="#2ac82a"/>
<rect x="807" y="218" width="3" height="18" fill="#22c822"/>
<rect x="808" y="219" width="1" height="16" fill="#32cd32"/>
<rect x="812" y="228" width="1" height="11" fill="#ff0000"/>
<rect x="811" y="234" width="3" height="1" fill="#ff0000"/>
<rect x="816" y="225" width="1" height="15" fill="#ff0000"/>
<rect x="815" y="226" width="3" height="10" fill="#ff0000"/>
<rect x="816" y="227" width="1" height="8" fill="#ff3c00"/>
<rect x="820" y="225" width="1" height="25" fill="#2ac82a"/>
<rect x="819" y="226" width="3" height="23" fill="#22c822"/>
<rect x="820" y="227" width="1" height="21" fill="#32cd32"/>
<rect x="824" y="236" width="1" height="23" fill="#ff0000"/>
<rect x="823" y="236" width="3" height="13" fill="#ff0000"/>
<rect x="824" y="237" width="1" height="11" fill="#ff3c00"/>
<rect x="828" y="231" width="1" height="10" fill="#ff0000"/>
<rect x="827" y="232" width="3" height="5" fill="#ff0000"/>
<rect x="828" y="233" width="1" height="3" fill="#ff3c00"/>
<rect x="832" y="224" width="1" height="17" fill="#2ac82a"/>
<rect x="831" y="231" width="3" height="3" fill="#22c822"/>
<rect x="832" y="232" width="1" height="1" fill="#32cd32"/>
<rect x="836" y="230" width="1" height="14" fill="#2ac82a"/>
<rect x="835" y="233" width="3" height="8" fill="#22c822"/>
<rect x="836" y="234" width="1" height="6" fill="#32cd32"/>
<rect x="840" y="234" width="1" height="10" fill="#ff0000"/>
<rect x="839" y="236" width="3" height="6" fill="#ff0000"/>
<rect x="840" y="237" width="1" height="4" fill="#ff3c00"/>
<rect x="844" y="230" width="1" height="18" fill="#ff0000"/>
<rect x="843" y="231" width="3" height="5" fill="#ff0000"/>
<rect x="844" y="232" width="1" height="3" fill="#ff3c00"/>
<rect x="848" y="219" width="1" height="29" fill="#2ac82a"/>
<rect x="847" y="231" width="3" height="15" fill="#22c822"/>
<rect x="848" y="232" width="1" height="13" fill="#32cd32"/>
<rect x="852" y="230" width="1" height="22" fill="#ff0000"/>
<rect x="851" y="231" width="3" height="19" fill="#ff0000"/>
<rect x="852" y="232" width="1" height="17" fill="#ff3c00"/>
<rect x="856" y="216" width="1" height="34" fill="#ff0000"/>
<rect x="855" y="219" width="3" height="13" fill="#ff0000"/>
<rect x="856" y="220" width="1" height="11" fill="#ff3c00"/>
<rect x="860" y="207" width="1" height="19" fill="#ff0000"/>
<rect x="859" y="212" width="3" height="8" fill="#ff0000"/>
<rect x="860" y="213" width="1" height="6" fill="#ff3c00"/>
<rect x="864" y="210" width="1" height="19" fill="#2ac82a"/>
<rect x="863" y="213" width="3" height="15" fill="#22c822"/>
<rect x="864" y="214" width="1" height="13" fill="#32cd32"/>
<rect x="868" y="232" width="1" height="58" fill="#2ac82a"/>
<rect x="867" y="234" width="3" height="55" fill="#22c822"/>
<rect x="868" y="235" width="1" height="53" fill="#32cd32"/>
<rect x="872" y="251" width="1" height="38" fill="#ff0000"/>
<rect x="871" y="252" width="3" height="36" fill="#ff0000"/>
<rect x="872" y="253" width="1" height="34" fill="#ff3c00"/>
<rect x="876" y="222" width="1" height="32" fill="#ff0000"/>
<rect x="875" y="228" width="3" height="24" fill="#ff0000"/>
<rect x="876" y="229" width="1" height="22" fill="#ff3c00"/>
<rect x="880" y="224" width="1" height="88" fill="#2ac82a"/>
<rect x="879" y="227" width="3" height="61" fill="#22c822"/>
<rect x="880" y="228" width="1" height="59" fill="#32cd32"/>
<rect x="884" y="276" width="1" height="19" fill="#2ac82a"/>
<rect x="883" y="281" width="3" height="7" fill="#22c822"/>
<rect x="884" y="282" width="1" height="5" fill="#32cd32"/>
<rect x="888" y="279" width="1" height="10" fill="#ff0000"/>
<rect x="887" y="285" width="3" height="3" fill="#ff0000"/>
<rect x="888" y="286" width="1" height="1" fill="#ff3c00"/>
<rect x="892" y="255" width="1" height="39" fill="#ff0000"/>
<rect x="891" y="258" width="3" height="27" fill="#ff0000"/>
<rect x="892" y="259" width="1" height="25" fill="#ff3c00"/>
<rect x="896" y="240" width="1" height="24" fill="#ff0000"/>
<rect x="895" y="241" width="3" height="21" fill="#ff0000"/>
<rect x="896" y="242" width="1" height="19" fill="#ff3c00"/>
<rect x="900" y="230" width="1" height="22" fill="#2ac82a"/>
<rect x="899" y="245" width="3" height="6" fill="#22c822"/>
<rect x="900" y="246" width="1" height="4" fill="#32cd32"/>
<rect x="904" y="211" width="1" height="47" fill="#ff0000"/>
<rect x="903" y="213" width="3" height="37" fill="#ff0000"/>
<rect x="904" y="214" width="1" height="35" fill="#ff3c00"/>
<rect x="908" y="220" width="1" height="10" fill="#2ac82a"/>
<rect x="907" y="223" width="3" height="4" fill="#22c822"/>
<rect x="908" y="224" width="1" height="2" fill="#32cd32"/>
<rect x="912" y="222" width="1" height="9" fill="#ff0000"/>
<rect x="911" y="222" width="3" height="4" fill="#ff0000"/>
<rect x="912" y="223" width="1" height="2" fill="#ff3c00"/>
<rect x="916" y="211" width="1" height="19" fill="#ff0000"/>
<rect x="915" y="217" width="3" height="5" fill="#ff0000"/>
<rect x="916" y="218" width="1" height="3" fill="#ff3c00"/>
<rect x="920" y="217" width="1" height="74" fill="#2ac82a"/>
<rect x="919" y="218" width="3" height="73" fill="#22c822"/>
<rect x="920" y="219" width="1" height="71" fill="#32cd32"/>
<rect x="924" y="251" width="1" height="41" fill="#ff0000"/>
<rect x="923" y="265" width="3" height="26" fill="#ff0000"/>
<rect x="924" y="266" width="1" height="24" fill="#ff3c00"/>
<rect x="928" y="263" width="1" height="28" fill="#2ac82a"/>
<rect x="927" y="265" width="3" height="17" fill="#22c822"/>
<rect x="928" y="266" width="1" height="15" fill="#32cd32"/>
<rect x="932" y="280" width="1" height="20" fill="#2ac82a"/>
<rect x="931" y="282" width="3" height="12" fill="#22c822"/>
<rect x="932" y="283" width="1" height="10" fill="#32cd32"/>
<rect x="936" y="277" width="1" height="25" fill="#ff0000"/>
<rect x="935" y="294" width="3" height="6" fill="#ff0000"/>
<rect x="936" y="295" width="1" height="4" fill="#ff3c00"/>
<rect x="940" y="286" width="1" height="13" fill="#ff0000"/>
<rect x="939" y="289" width="3" height="5" fill="#ff0000"/>
<rect x="940" y="290" width="1" height="3" fill="#ff3c00"/>
<rect x="944" y="261" width="1" height="29" fill="#ff0000"/>
<rect x="943" y="262" width="3" height="28" fill="#ff0000"/>
<rect x="944" y="263" width="1" height="26" fill="#ff3c00"/>
<rect x="948" y="232" width="1" height="34" fill="#ff0000"/>
<rect x="947" y="237" width="3" height="28" fill="#ff0000"/>
<rect x="948" y="238" width="1" height="26" fill="#ff3c00"/>
<rect x="952" y="236" width="1" height="28" fill="#2ac82a"/>
<rect x="951" y="237" width="3" height="25" fill="#22c822"/>
<rect x="952" y="238" width="1" height="23" fill="#32cd32"/>
<rect x="956" y="210" width="1" height="56" fill="#ff0000"/>
<rect x="955" y="212" width="3" height="52" fill="#ff0000"/>
<rect x="956" y="213" width="1" height="50" fill="#ff3c00"/>
<rect x="960" y="200" width="1" height="36" fill="#2ac82a"/>
<rect x="959" y="213" width="3" height="23" fill="#22c822"/>
<rect x="960" y="214" width="1" height="21" fill="#32cd32"/>
<rect x="964" y="227" width="1" height="13" fill="#ff0000"/>
<rect x="963" y="234" width="3" height="2" fill="#ff0000"/>
<rect x="968" y="230" width="1" height="29" fill="#2ac82a"/>
<rect x="967" y="234" width="3" height="24" fill="#22c822"/>
<rect x="968" y="235" width="1" height="22" fill="#32cd32"/>
<rect x="972" y="235" width="1" height="77" fill="#2ac82a"/>
<rect x="971" y="258" width="3" height="54" fill="#22c822"/>
<rect x="972" y="259" width="1" height="52" fill="#32cd32"/>
<rect x="976" y="258" width="1" height="54" fill="#ff0000"/>
<rect x="975" y="260" width="3" height="52" fill="#ff0000"/>
<rect x="976" y="261" width="1" height="50" fill="#ff3c00"/>
<rect x="980" y="250" width="1" height="50" fill="#2ac82a"/>
<rect x="979" y="260" width="3" height="34" fill="#22c822"/>
<rect x="980" y="261" width="1" height="32" fill="#32cd32"/>
<rect x="984" y="271" width="1" height="38" fill="#2ac82a"/>
<rect x="983" y="294" width="3" height="14" fill="#22c822"/>
<rect x="984" y="295" width="1" height="12" fill="#32cd32"/>
<rect x="988" y="300" width="1" height="11" fill="#2ac82a"/>
<rect x="987" y="307" width="3" height="3" fill="#22c822"/>
<rect x="988" y="308" width="1" height="1" fill="#32cd32"/>
<rect x="992" y="290" width="1" height="48" fill="#2ac82a"/>
<rect x="991" y="309" width="3" height="22" fill="#22c822"/>
<rect x="992" y="310" width="1" height="20" fill="#32cd32"/>
<rect x="996" y="330" width="1" height="29" fill="#2ac82a"/>
<rect x="995" y="331" width="3" height="16" fill="#22c822"/>
<rect x="996" y="332" width="1" height="14" fill="#32cd32"/>
<rect x="1000" y="311" width="1" height="38" fill="#ff0000"/>
<rect x="999" y="313" width="3" height="34" fill="#ff0000"/>
<rect x="1000" y="314" width="1" height="32" fill="#ff3c00"/>
<rect x="1004" y="296" width="1" height="26" fill="#ff0000"/>
<rect x="1003" y="297" width="3" height="15" fill="#ff0000"/>
<rect x="1004" y="298" width="1" height="13" fill="#ff3c00"/>
<rect x="1008" y="308" width="1" height="12" fill="#ff0000"/>
<rect x="1007" y="309" width="3" height="5" fill="#ff0000"/>
<rect x="1008" y="310" width="1" height="3" fill="#ff3c00"/>
<rect x="1012" y="295" width="1" height="16" fill="#ff0000"/>
<rect x="1011" y="304" width="3" height="6" fill="#ff0000"/>
<rect x="1012" y="305" width="1" height="4" fill="#ff3c00"/>
<rect x="1016" y="291" width="1" height="29" fill="#2ac82a"/>
<rect x="1015" y="304" width="3" height="8" fill="#22c822"/>
<rect x="1016" y="305" width="1" height="6" fill="#32cd32"/>
<rect x="1020" y="281" width="1" height="42" fill="#ff0000"/>
<rect x="1019" y="289" width="3" height="23" fill="#ff0000"/>
<rect x="1020" y="290" width="1" height="21" fill="#ff3c00"/>
<rect x="1024" y="282" width="1" height="36" fill="#2ac82a"/>
<rect x="1023" y="289" width="3" height="13" fill="#22c822"/>
<rect x="1024" y="290" width="1" height="11" fill="#32cd32"/>
<rect x="1028" y="297" width="1" height="27" fill="#2ac82a"/>
<rect x="1027" y="301" width="3" height="21" fill="#22c822"/>
<rect x="1028" y="302" width="1" height="19" fill="#32cd32"/>
<rect x="1032" y="321" width="1" height="25" fill="#2ac82a"/>
<rect x="1031" y="322" width="3" height="19" fill="#22c822"/>
<rect x="1032" y="323" width="1" height="17" fill="#32cd32"/>
<rect x="1036" y="313" width="1" height="31" fill="#ff0000"/>
<rect x="1035" y="316" width="3" height="25" fill="#ff0000"/>
<rect x="1036" y="317" width="1" height="23" fill="#ff3c00"/>
<rect x="816" y="250" width="317" height="2" fill="#ff2020"/>
<rect x="870" y="284" width="288" height="2" fill="#9acd32"/>
<rect x="997" y="350" width="130" height="1" fill="#3c8ce6"/>
<rect x="4" y="378" width="1" height="20" fill="#c0c0c0"/>
<rect x="8" y="379" width="1" height="19" fill="#c0c0c0"/>
<rect x="12" y="379" width="1" height="19" fill="#c0c0c0"/>
<rect x="16" y="379" width="1" height="19" fill="#c0c0c0"/>
<rect x="20" y="379" width="1" height="19" fill="#c0c0c0"/>
<rect x="24" y="380" width="1" height="18" fill="#c0c0c0"/>
<rect x="28" y="380" width="1" height="18" fill="#c0c0c0"/>
<rect x="32" y="380" width="1" height="18" fill="#c0c0c0"/>
<rect x="36" y="383" width="1" height="15" fill="#c0c0c0"/>
<rect x="40" y="386" width="1" height="12" fill="#c0c0c0"/>
<rect x="44" y="389" width="1" height="9" fill="#c0c0c0"/>
<rect x="48" y="391" width="1" height="7" fill="#c0c0c0"/>
<rect x="52" y="395" width="1" height="3" fill="#c0c0c0"/>
<rect x="56" y="397" width="1" height="1" fill="#c0c0c0"/>
<rect x="60" y="397" width="1" height="1" fill="#c0c0c0"/>
<rect x="64" y="395" width="1" height="3" fill="#c0c0c0"/>
<rect x="68" y="394" width="1" height="4" fill="#c0c0c0"/>
<rect x="72" y="392" width="1" height="6" fill="#c0c0c0"/>
<rect x="76" y="393" width="1" height="5" fill="#c0c0c0"/>
<rect x="80" y="394" width="1" height="4" fill="#c0c0c0"/>
<rect x="84" y="393" width="1" height="5" fill="#c0c0c0"/>
<rect x="88" y="392" width="1" height="6" fill="#c0c0c0"/>
<rect x="92" y="392" width="1" height="6" fill="#c0c0c0"/>
<rect x="96" y="392" width="1" height="6" fill="#c0c0c0"/>
<rect x="100" y="392" width="1" height="6" fill="#c0c0c0"/>
<rect x="104" y="393" width="1" height="5" fill="#c0c0c0"/>
<rect x="108" y="394" width="1" height="4" fill="#c0c0c0"/>
<rect x="112" y="395" width="1" height="3" fill="#c0c0c0"/>
<rect x="116" y="397" width="1" height="1" fill="#c0c0c0"/>
<rect x="120" y="397" width="1" height="1" fill="#c0c0c0"/>
<rect x="124" y="397" width="1" height="7" fill="#c0c0c0"/>
<rect x="128" y="397" width="1" height="10" fill="#c0c0c0"/>
<rect x="132" y="397" width="1" height="11" fill="#c0c0c0"/>
<rect x="136" y="397" width="1" height="11" fill="#c0c0c0"/>
<rect x="140" y="397" width="1" height="9" fill="#c0c0c0"/>
<rect x="144" y="397" width="1" height="7" fill="#c0c0c0"/>
<rect x="148" y="397" width="1" height="7" fill="#c0c0c0"/>
<rect x="152" y="397" width="1" height="6" fill="#c0c0c0"/>
<rect x="156" y="397" width="1" height="3" fill="#c0c0c0"/>
<rect x="160" y="397" width="1" height="1" fill="#c0c0c0"/>
<rect x="164" y="393" width="1" height="5" fill="#c0c0c0"/>
<rect x="168" y="390" width="1" height="8" fill="#c0c0c0"/>
<rect x="172" y="389" width="1" height="9" fill="#c0c0c0"/>
<rect x="176" y="387" width="1" height="11" fill="#c0c0c0"/>
<rect x="180" y="388" width="1" height="10" fill="#c0c0c0"/>
<rect x="184" y="388" width="1" height="10" fill="#c0c0c0"/>
<rect x="188" y="387" width="1" height="11" fill="#c0c0c0"/>
<rect x="192" y="385" width="1" height="13" fill="#c0c0c0"/>
<rect x="196" y="382" width="1" height="16" fill="#c0c0c0"/>
<rect x="200" y="381" width="1" height="17" fill="#c0c0c0"/>
<rect x="204" y="380" width="1" height="18" fill="#c0c0c0"/>
<rect x="208" y="379" width="1" height="19" fill="#c0c0c0"/>
<rect x="212" y="378" width="1" height="20" fill="#c0c0c0"/>
<rect x="216" y="378" width="1" height="20" fill="#c0c0c0"/>
<rect x="220" y="377" width="1" height="21" fill="#c0c0c0"/>
<rect x="224" y="377" width="1" height="21" fill="#c0c0c0"/>
<rect x="228" y="379" width="1" height="19" fill="#c0c0c0"/>
<rect x="232" y="381" width="1" height="17" fill="#c0c0c0"/>
<rect x="236" y="384" width="1" height="14" fill="#c0c0c0"/>
<rect x="240" y="386" width="1" height="12" fill="#c0c0c0"/>
<rect x="244" y="386" width="1" height="12" fill="#c0c0c0"/>
<rect x="248" y="388" width="1" height="10" fill="#c0c0c0"/>
<rect x="252" y="389" width="1" height="9" fill="#c0c0c0"/>
<rect x="256" y="393" width="1" height="5" fill="#c0c0c0"/>
<rect x="260" y="394" width="1" height="4" fill="#c0c0c0"/>
<rect x="264" y="396" width="1" height="2" fill="#c0c0c0"/>
<rect x="268" y="397" width="1" height="1" fill="#c0c0c0"/>
<rect x="272" y="397" width="1" height="1" fill="#c0c0c0"/>
<rect x="276" y="397" width="1" height="1" fill="#c0c0c0"/>
<rect x="280" y="397" width="1" height="1" fill="#c0c0c0"/>
<rect x="284" y="397" width="1" height="1" fill="#c0c0c0"/>
<rect x="288" y="397" width="1" height="1" fill="#c0c0c0"/>
<rect x="292" y="397" width="1" height="1" fill="#c0c0c0"/>
<rect x="296" y="397" width="1" height="4" fill="#c0c0c0"/>
<rect x="300" y="397" width="1" height="6" fill="#c0c0c0"/>
<rect x="304" y="397" width="1" height="11" fill="#c0c0c0"/>
<rect x="308" y="397" width="1" height="14" fill="#c0c0c0"/>
<rect x="312" y="397" width="1" height="16" fill="#c0c0c0"/>
<rect x="316" y="397" width="1" height="21" fill="#c0c0c0"/>
<rect x="320" y="397" width="1" height="23" fill="#c0c0c0"/>
<rect x="324" y="397" width="1" height="29" fill="#c0c0c0"/>
<rect x="328" y="397" width="1" height="31" fill="#c0c0c0"/>
<rect x="332" y="397" width="1" height="35" fill="#c0c0c0"/>
<rect x="336" y="397" width="1" height="37" fill="#c0c0c0"/>
<rect x="340" y="397" width="1" height="37" fill="#c0c0c0"/>
<rect x="344" y="397" width="1" height="37" fill="#c0c0c0"/>
<rect x="348" y="397" width="1" height="37" fill="#c0c0c0"/>
<rect x="352" y="397" width="1" height="34" fill="#c0c0c0"/>
<rect x="356" y="397" width="1" height="32" fill="#c0c0c0"/>
<rect x="360" y="397" width="1" height="30" fill="#c0c0c0"/>
<rect x="364" y="397" width="1" height="29" fill="#c0c0c0"/>
<rect x="368" y="397" width="1" height="26" fill="#c0c0c0"/>
<rect x="372" y="397" width="1" height="25" fill="#c0c0c0"/>
<rect x="376" y="397" width="1" height="24" fill="#c0c0c0"/>
<rect x="380" y="397" width="1" height="23" fill="#c0c0c0"/>
<rect x="384" y="397" width="1" height="22" fill="#c0c0c0"/>
<rect x="388" y="397" width="1" height="21" fill="#c0c0c0"/>
<rect x="392" y="397" width="1" height="20" fill="#c0c0c0"/>
<rect x="396" y="397" width="1" height="17" fill="#c0c0c0"/>
<rect x="400" y="397" width="1" height="17" fill="#c0c0c0"/>
<rect x="404" y="397" width="1" height="17" fill="#c0c0c0"/>
<rect x="408" y="397" width="1" height="16" fill="#c0c0c0"/>
<rect x="412" y="397" width="1" height="12" fill="#c0c0c0"/>
<rect x="416" y="397" width="1" height="9" fill="#c0c0c0"/>
<rect x="420" y="397" width="1" height="6" fill="#c0c0c0"/>
<rect x="424" y="397" width="1" height="4" fill="#c0c0c0"/>
<rect x="428" y="397" width="1" height="1" fill="#c0c0c0"/>
<rect x="432" y="397" width="1" height="1" fill="#c0c0c0"/>
<rect x="436" y="397" width="1" height="1" fill="#c0c0c0"/>
<rect x="440" y="397" width="1" height="1" fill="#c0c0c0"/>
<rect x="444" y="395" width="1" height="3" fill="#c0c0c0"/>
<rect x="448" y="394" width="1" height="4" fill="#c0c0c0"/>
<rect x="452" y="393" width="1" height="5" fill="#c0c0c0"/>
<rect x="456" y="393" width="1" height="5" fill="#c0c0c0"/>
<rect x="460" y="391" width="1" height="7" fill="#c0c0c0"/>
<rect x="464" y="391" width="1" height="7" fill="#c0c0c0"/>
<rect x="468" y="392" width="1" height="6" fill="#c0c0c0"/>
<rect x="472" y="392" width="1" height="6" fill="#c0c0c0"/>
<rect x="476" y="391" width="1" height="7" fill="#c0c0c0"/>
<rect x="480" y="391" width="1" height="7" fill="#c0c0c0"/>
<rect x="484" y="391" width="1" height="7" fill="#c0c0c0"/>
<rect x="488" y="391" width="1" height="7" fill="#c0c0c0"/>
<rect x="492" y="390" width="1" height="8" fill="#c0c0c0"/>
<rect x="496" y="396" width="1" height="2" fill="#c0c0c0"/>
<rect x="500" y="397" width="1" height="3" fill="#c0c0c0"/>
<rect x="504" y="397" width="1" height="5" fill="#c0c0c0"/>
<rect x="508" y="397" width="1" height="5" fill="#c0c0c0"/>
<rect x="512" y="397" width="1" height="5" fill="#c0c0c0"/>
<rect x="516" y="397" width="1" height="5" fill="#c0c0c0"/>
<rect x="520" y="397" width="1" height="4" fill="#c0c0c0"/>
<rect x="524" y="397" width="1" height="4" fill="#c0c0c0"/>
<rect x="528" y="397" width="1" height="4" fill="#c0c0c0"/>
<rect x="532" y="397" width="1" height="4" fill="#c0c0c0"/>
<rect x="536" y="397" width="1" height="1" fill="#c0c0c0"/>
<rect x="540" y="397" width="1" height="1" fill="#c0c0c0"/>
<rect x="544" y="396" width="1" height="2" fill="#c0c0c0"/>
<rect x="548" y="396" width="1" height="2" fill="#c0c0c0"/>
<rect x="552" y="394" width="1" height="4" fill="#c0c0c0"/>
<rect x="556" y="394" width="1" height="4" fill="#c0c0c0"/>
<rect x="560" y="396" width="1" height="2" fill="#c0c0c0"/>
<rect x="564" y="396" width="1" height="2" fill="#c0c0c0"/>
<rect x="568" y="394" width="1" height="4" fill="#c0c0c0"/>
<rect x="572" y="396" width="1" height="2" fill="#c0c0c0"/>
<rect x="576" y="397" width="1" height="1" fill="#c0c0c0"/>
<rect x="580" y="397" width="1" height="2" fill="#c0c0c0"/>
<rect x="584" y="397" width="1" height="3" fill="#c0c0c0"/>
<rect x="588" y="397" width="1" height="2" fill="#c0c0c0"/>
<rect x="592" y="397" width="1" height="1" fill="#c0c0c0"/>
<rect x="596" y="397" width="1" height="1" fill="#c0c0c0"/>
<rect x="600" y="397" width="1" height="1" fill="#c0c0c0"/>
<rect x="604" y="396" width="1" height="2" fill="#c0c0c0"/>
<rect x="608" y="394" width="1" height="4" fill="#c0c0c0"/>
<rect x="612" y="394" width="1" height="4" fill="#c0c0c0"/>
<rect x="616" y="396" width="1" height="2" fill="#c0c0c0"/>
<rect x="620" y="397" width="1" height="1" fill="#c0c0c0"/>
<rect x="624" y="397" width="1" height="1" fill="#c0c0c0"/>
<rect x="628" y="396" width="1" height="2" fill="#c0c0c0"/>
<rect x="632" y="397" width="1" height="4" fill="#c0c0c0"/>
<rect x="636" y="397" width="1" height="8" fill="#c0c0c0"/>
<rect x="640" y="397" width="1" height="10" fill="#c0c0c0"/>
<rect x="644" y="397" width="1" height="12" fill="#c0c0c0"/>
<rect x="648" y="397" width="1" height="13" fill="#c0c0c0"/>
<rect x="652" y="397" width="1" height="13" fill="#c0c0c0"/>
<rect x="656" y="397" width="1" height="14" fill="#c0c0c0"/>
<rect x="660" y="397" width="1" height="15" fill="#c0c0c0"/>
<rect x="664" y="397" width="1" height="17" fill="#c0c0c0"/>
<rect x="668" y="397" width="1" height="21" fill="#c0c0c0"/>
<rect x="672" y="397" width="1" height="22" fill="#c0c0c0"/>
<rect x="676" y="397" width="1" height="22" fill="#c0c0c0"/>
<rect x="680" y="397" width="1" height="23" fill="#c0c0c0"/>
<rect x="684" y="397" width="1" height="23" fill="#c0c0c0"/>
<rect x="688" y="397" width="1" height="22" fill="#c0c0c0"/>
<rect x="692" y="397" width="1" height="22" fill="#c0c0c0"/>
<rect x="696" y="397" width="1" height="21" fill="#c0c0c0"/>
<rect x="700" y="397" width="1" height="20" fill="#c0c0c0"/>
<rect x="704" y="397" width="1" height="19" fill="#c0c0c0"/>
<rect x="708" y="397" width="1" height="16" fill="#c0c0c0"/>
<rect x="712" y="397" width="1" height="13" fill="#c0c0c0"/>
<rect x="716" y="397" width="1" height="10" fill="#c0c0c0"/>
<rect x="720" y="397" width="1" height="8" fill="#c0c0c0"/>
<rect x="724" y="397" width="1" height="4" fill="#c0c0c0"/>
<rect x="728" y="397" width="1" height="2" fill="#c0c0c0"/>
<rect x="732" y="397" width="1" height="2" fill="#c0c0c0"/>
<rect x="736" y="397" width="1" height="2" fill="#c0c0c0"/>
<rect x="740" y="397" width="1" height="1" fill="#c0c0c0"/>
<rect x="744" y="397" width="1" height="1" fill="#c0c0c0"/>
<rect x="748" y="397" width="1" height="1" fill="#c0c0c0"/>
<rect x="752" y="396" width="1" height="2" fill="#c0c0c0"/>
<rect x="756" y="397" width="1" height="1" fill="#c0c0c0"/>
<rect x="760" y="395" width="1" height="3" fill="#c0c0c0"/>
<rect x="764" y="395" width="1" height="3" fill="#c0c0c0"/>
<rect x="768" y="394" width="1" height="4" fill="#c0c0c0"/>
<rect x="772" y="391" width="1" height="7" fill="#c0c0c0"/>
<rect x="776" y="389" width="1" height="9" fill="#c0c0c0"/>
<rect x="780" y="387" width="1" height="11" fill="#c0c0c0"/>
<rect x="784" y="386" width="1" height="12" fill="#c0c0c0"/>
<rect x="788" y="384" width="1" height="14" fill="#c0c0c0"/>
<rect x="792" y="384" width="1" height="14" fill="#c0c0c0"/>
<rect x="796" y="385" width="1" height="13" fill="#c0c0c0"/>
<rect x="800" y="389" width="1" height="9" fill="#c0c0c0"/>
<rect x="804" y="390" width="1" height="8" fill="#c0c0c0"/>
<rect x="808" y="393" width="1" height="5" fill="#c0c0c0"/>
<rect x="812" y="395" width="1" height="3" fill="#c0c0c0"/>
<rect x="816" y="396" width="1" height="2" fill="#c0c0c0"/>
<rect x="820" y="397" width="1" height="1" fill="#c0c0c0"/>
<rect x="824" y="397" width="1" height="2" fill="#c0c0c0"/>
<rect x="828" y="397" width="1" height="3" fill="#c0c0c0"/>
<rect x="832" y="397" width="1" height="1" fill="#c0c0c0"/>
<rect x="836" y="397" width="1" height="3" fill="#c0c0c0"/>
<rect x="840" y="397" width="1" height="3" fill="#c0c0c0"/>
<rect x="844" y="397" width="1" height="2" fill="#c0c0c0"/>
<rect x="848" y="397" width="1" height="3" fill="#c0c0c0"/>
<rect x="852" y="397" width="1" height="4" fill="#c0c0c0"/>
<rect x="856" y="397" width="1" height="3" fill="#c0c0c0"/>
<rect x="860" y="397" width="1" height="1" fill="#c0c0c0"/>
<rect x="864" y="397" width="1" height="1" fill="#c0c0c0"/>
<rect x="868" y="397" width="1" height="6" fill="#c0c0c0"/>
<rect x="872" y="397" width="1" height="8" fill="#c0c0c0"/>
<rect x="876" y="397" width="1" height="5" fill="#c0c0c0"/>
<rect x="880" y="397" width="1" height="9" fill="#c0c0c0"/>
<rect x="884" y="397" width="1" height="13" fill="#c0c0c0"/>
<rect x="888" y="397" width="1" height="15" fill="#c0c0c0"/>
<rect x="892" y="397" width="1" height="14" fill="#c0c0c0"/>
<rect x="896" y="397" width="1" height="12" fill="#c0c0c0"/>
<rect x="900" y="397" width="1" height="12" fill="#c0c0c0"/>
<rect x="904" y="397" width="1" height="6" fill="#c0c0c0"/>
<rect x="908" y="397" width="1" height="4" fill="#c0c0c0"/>
<rect x="912" y="397" width="1" height="1" fill="#c0c0c0"/>
<rect x="916" y="397" width="1" height="1" fill="#c0c0c0"/>
<rect x="920" y="397" width="1" height="4" fill="#c0c0c0"/>
<rect x="924" y="397" width="1" height="4" fill="#c0c0c0"/>
<rect x="928" y="397" width="1" height="7" fill="#c0c0c0"/>
<rect x="932" y="397" width="1" height="11" fill="#c0c0c0"/>
<rect x="936" y="397" width="1" height="13" fill="#c0c0c0"/>
<rect x="940" y="397" width="1" height="15" fill="#c0c0c0"/>
<rect x="944" y="397" width="1" height="13" fill="#c0c0c0"/>
<rect x="948" y="397" width="1" height="10" fill="#c0c0c0"/>
<rect x="952" y="397" width="1" height="7" fill="#c0c0c0"/>
<rect x="956" y="397" width="1" height="2" fill="#c0c0c0"/>
<rect x="960" y="397" width="1" height="1" fill="#c0c0c0"/>
<rect x="964" y="397" width="1" height="1" fill="#c0c0c0"/>
<rect x="968" y="397" width="1" height="1" fill="#c0c0c0"/>
<rect x="972" y="397" width="1" height="6" fill="#c0c0c0"/>
<rect x="976" y="397" width="1" height="6" fill="#c0c0c0"/>
<rect x="980" y="397" width="1" height="7" fill="#c0c0c0"/>
<rect x="984" y="397" width="1" height="11" fill="#c0c0c0"/>
<rect x="988" y="397" width="1" height="13" fill="#c0c0c0"/>
<rect x="992" y="397" width="1" height="17" fill="#c0c0c0"/>
<rect x="996" y="397" width="1" height="22" fill="#c0c0c0"/>
<rect x="1000" y="397" width="1" height="22" fill="#c0c0c0"/>
<rect x="1004" y="397" width="1" height="20" fill="#c0c0c0"/>
<rect x="1008" y="397" width="1" height="20" fill="#c0c0c0"/>
<rect x="1012" y="397" width="1" height="19" fill="#c0c0c0"/>
<rect x="1016" y="397" width="1" height="19" fill="#c0c0c0"/>
<rect x="1020" y="397" width="1" height="16" fill="#c0c0c0"/>
<rect x="1024" y="397" width="1" height="15" fill="#c0c0c0"/>
<rect x="1028" y="397" width="1" height="16" fill="#c0c0c0"/>
<rect x="1032" y="397" width="1" height="19" fill="#c0c0c0"/>
<rect x="1036" y="397" width="1" height="17" fill="#c0c0c0"/>
<polyline points="4.5,380.5 8.5,379.2 12.5,377.9 16.5,376.9 20.5,376.0 24.5,375.7 28.5,375.6 32.5,376.3 36.5,377.2 40.5,379.1 44.5,381.0 48.5,382.3 52.5,383.3 56.5,385.4 60.5,387.6 64.5,389.3 68.5,391.1 72.5,392.2 76.5,393.0 80.5,393.5 84.5,393.7 88.5,393.4 92.5,392.9 96.5,392.4 100.5,392.1 104.5,392.0 108.5,392.1 112.5,392.3 116.5,392.6 120.5,393.1 124.5,394.5 128.5,396.3 132.5,398.2 136.5,400.1 140.5,401.7 144.5,403.0 148.5,404.2 152.5,405.0 156.5,405.6 160.5,404.9 164.5,403.2 168.5,401.1 172.5,398.8 176.5,396.6 180.5,394.6 184.5,392.7 188.5,390.8 192.5,389.0 196.5,387.0 200.5,385.6 204.5,384.5 208.5,383.4 212.5,382.4 216.5,381.2 220.5,380.0 224.5,378.8 228.5,378.1 232.5,378.0 236.5,378.4 240.5,379.1 244.5,379.9 248.5,381.0 252.5,382.2 256.5,384.0 260.5,385.9 264.5,387.9 268.5,389.7 272.5,391.1 276.5,392.3 280.5,393.5 284.5,394.5 288.5,395.3 292.5,395.8 296.5,396.8 300.5,397.8 304.5,399.1 308.5,400.9 312.5,402.8 316.5,405.3 320.5,408.1 324.5,411.4 328.5,415.1 332.5,418.4 336.5,421.8 340.5,424.8 344.5,427.3 348.5,429.7 352.5,431.1 356.5,432.1 360.5,432.2 364.5,432.0 368.5,431.1 372.5,429.8 376.5,428.3 380.5,426.6 384.5,425.0 388.5,423.5 392.5,422.1 396.5,420.7 400.5,419.4 404.5,418.3 408.5,417.4 412.5,416.0 416.5,414.4 420.5,412.7 424.5,410.9 428.5,408.8 432.5,407.0 436.5,405.2 440.5,403.2 444.5,401.1 448.5,399.2 452.5,397.7 456.5,396.4 460.5,395.0 464.5,394.1 468.5,393.2 472.5,392.4 476.5,391.7 480.5,391.2 484.5,390.9 488.5,390.6 492.5,390.3 496.5,390.8 500.5,392.0 504.5,393.3 508.5,394.7 512.5,396.1 516.5,397.5 520.5,398.8 524.5,400.0 528.5,401.4 532.5,402.2 536.5,402.1 540.5,401.6 544.5,400.7 548.5,399.8 552.5,398.7 556.5,397.8 560.5,397.0 564.5,396.2 568.5,395.3 572.5,394.8 576.5,394.5 580.5,395.1 584.5,395.7 588.5,396.3 592.5,396.7 596.5,396.9 600.5,397.1 604.5,397.3 608.5,397.1 612.5,396.8 616.5,396.2 620.5,395.8 624.5,395.4 628.5,395.3 632.5,395.8 636.5,396.9 640.5,398.2 644.5,400.0 648.5,401.9 652.5,403.7 656.5,405.4 660.5,407.2 664.5,409.3 668.5,411.2 672.5,412.7 676.5,414.0 680.5,415.2 684.5,416.3 688.5,417.3 692.5,418.2 696.5,418.9 700.5,419.3 704.5,419.1 708.5,418.4 712.5,417.5 716.5,416.0 720.5,414.4 724.5,412.4 728.5,410.3 732.5,408.2 736.5,406.1 740.5,403.9 744.5,402.2 748.5,401.0 752.5,399.6 756.5,398.6 760.5,397.7 764.5,397.0 768.5,396.4 772.5,395.3 776.5,394.4 780.5,393.0 784.5,391.5 788.5,390.2 792.5,388.7 796.5,387.6 800.5,387.0 804.5,386.5 808.5,386.7 812.5,387.4 816.5,388.5 820.5,389.7 824.5,391.5 828.5,393.4 832.5,395.0 836.5,396.5 840.5,397.7 844.5,398.6 848.5,399.3 852.5,400.0 856.5,400.5 860.5,400.4 864.5,400.2 868.5,400.7 872.5,401.2 876.5,401.4 880.5,402.3 884.5,403.3 888.5,404.5 892.5,405.7 896.5,406.9 900.5,408.1 904.5,408.0 908.5,407.6 912.5,407.2 916.5,406.0 920.5,405.0 924.5,403.9 928.5,403.2 932.5,403.1 936.5,403.2 940.5,404.2 944.5,405.2 948.5,406.2 952.5,407.1 956.5,407.0 960.5,406.3 964.5,405.4 968.5,404.3 972.5,403.5 976.5,402.5 980.5,401.9 984.5,402.0 988.5,402.7 992.5,404.3 996.5,406.9 1000.5,409.5 1004.5,411.6 1008.5,413.1 1012.5,414.5 1016.5,415.8 1020.5,416.4 1024.5,416.5 1028.5,416.4 1032.5,416.0 1036.5,415.5" fill="none" stroke="#ff0000" stroke-width="1" stroke-dasharray="3,3" shape-rendering="crispEdges"/>
</g>
<polyline points="4.5,144.0 8.5,140.0 12.5,136.0 16.5,131.8 20.5,128.1 24.5,124.8 28.5,122.8 32.5,121.6 36.5,120.7 40.5,120.0 44.5,120.6 48.5,121.8 52.5,125.8 56.5,129.0 60.5,131.0 64.5,133.0 68.5,135.1 72.5,136.5 76.5,137.7 80.5,138.9 84.5,138.3 88.5,137.6 92.5,136.8 96.5,135.6 100.5,134.4 104.5,132.6 108.5,129.9 112.5,128.5 116.5,130.0 120.5,132.5 124.5,138.2 128.5,142.2 132.5,145.4 136.5,148.1 140.5,149.0 144.5,151.0 148.5,152.7 152.5,153.8 156.5,153.9 160.5,152.4 164.5,150.3 168.5,148.0 172.5,144.5 176.5,140.4 180.5,135.6 184.5,130.8 188.5,126.2 192.5,121.3 196.5,116.3 200.5,111.5 204.5,106.7 208.5,101.8 212.5,98.0 216.5,94.8 220.5,91.8 224.5,90.5 228.5,89.2 232.5,87.7 236.5,86.3 240.5,84.8 244.5,83.1 248.5,83.8 252.5,85.2 256.5,87.2 260.5,89.3 264.5,92.2 268.5,95.0 272.5,98.2 276.5,101.8 280.5,105.2 284.5,107.2 288.5,109.2 292.5,111.2 296.5,113.2 300.5,112.8 304.5,119.1 308.5,123.5 312.5,128.1 316.5,132.6 320.5,139.2 324.5,146.0 328.5,153.9 332.5,161.7 336.5,169.9 340.5,177.6 344.5,185.4 348.5,192.7 352.5,200.5 356.5,204.9 360.5,210.1 364.5,212.6 368.5,215.5 372.5,218.3 376.5,219.9 380.5,221.1 384.5,221.3 388.5,220.9 392.5,219.4 396.5,218.3 400.5,217.6 404.5,217.2 408.5,216.9 412.5,215.6 416.5,214.0 420.5,211.9 424.5,210.8 428.5,208.9 432.5,208.1 436.5,206.7 440.5,203.7 444.5,200.5 448.5,197.5 452.5,195.4 456.5,192.8 460.5,189.4 464.5,186.2 468.5,183.4 472.5,182.4 476.5,181.2 480.5,180.5 484.5,179.8 488.5,179.4 492.5,177.1 496.5,179.3 500.5,183.0 504.5,186.6 508.5,188.4 512.5,189.9 516.5,191.6 520.5,193.7 524.5,195.8 528.5,197.2 532.5,198.2 536.5,198.3 540.5,198.0 544.5,197.2 548.5,198.1 552.5,199.7 556.5,196.1 560.5,193.3 564.5,190.1 568.5,188.5 572.5,188.0 576.5,188.0 580.5,189.3 584.5,189.4 588.5,189.1 592.5,188.7 596.5,188.8 600.5,188.5 604.5,189.6 608.5,188.2 612.5,187.9 616.5,188.6 620.5,189.1 624.5,189.6 628.5,190.0 632.5,193.6 636.5,196.0 640.5,196.7 644.5,198.4 648.5,201.3 652.5,203.5 656.5,207.5 660.5,212.1 664.5,217.5 668.5,225.1 672.5,231.0 676.5,235.7 680.5,240.5 684.5,245.5 688.5,250.7 692.5,251.7 696.5,253.4 700.5,256.9 704.5,258.2 708.5,258.5 712.5,259.2 716.5,259.2 720.5,258.4 724.5,255.3 728.5,251.9 732.5,249.7 736.5,247.9 740.5,244.9 744.5,242.2 748.5,240.8 752.5,238.0 756.5,235.5 760.5,231.9 764.5,229.6 768.5,228.1 772.5,225.8 776.5,222.7 780.5,220.7 784.5,218.4 788.5,215.6 792.5,212.5 796.5,211.0 800.5,211.9 804.5,211.4 808.5,211.2 812.5,211.7 816.5,211.6 820.5,213.0 824.5,214.1 828.5,215.1 832.5,217.5 836.5,221.0 840.5,223.4 844.5,226.4 848.5,230.3 852.5,233.0 856.5,233.6 860.5,232.0 864.5,232.6 868.5,236.2 872.5,237.4 876.5,237.5 880.5,240.1 884.5,243.5 888.5,247.1 892.5,248.6 896.5,248.6 900.5,249.7 904.5,248.5 908.5,247.2 912.5,246.6 916.5,246.5 920.5,251.8 924.5,254.3 928.5,253.8 932.5,256.6 936.5,261.0 940.5,261.1 944.5,259.5 948.5,256.3 952.5,256.6 956.5,254.7 960.5,253.6 964.5,255.0 968.5,257.1 972.5,263.1 976.5,265.9 980.5,266.1 984.5,269.0 988.5,270.8 992.5,273.2 996.5,276.7 1000.5,278.3 1004.5,280.6 1008.5,285.4 1012.5,288.2 1016.5,294.8 1020.5,298.4 1024.5,302.9 1028.5,307.2 1032.5,309.1 1036.5,312.9" fill="none" stroke="#ff0000" stroke-width="1" shape-rendering="crispEdges"/>
<polyline points="4.5,153.0 8.5,150.9 12.5,148.8 16.5,146.3 20.5,143.4 24.5,140.5 28.5,137.6 32.5,135.1 36.5,133.3 40.5,131.5 44.5,130.3 48.5,129.4 52.5,129.8 56.5,130.3 60.5,130.4 64.5,130.0 68.5,129.7 72.5,129.4 76.5,129.4 80.5,129.5 84.5,129.7 88.5,129.9 92.5,130.8 96.5,131.7 100.5,132.5 104.5,133.6 108.5,134.8 112.5,135.7 116.5,136.3 120.5,137.9 124.5,140.1 128.5,142.6 132.5,143.5 136.5,143.4 140.5,142.4 144.5,142.4 148.5,143.3 152.5,143.8 156.5,145.2 160.5,144.2 164.5,143.6 168.5,142.2 172.5,141.1 176.5,140.5 180.5,140.5 184.5,139.2 188.5,137.8 192.5,135.8 196.5,132.8 200.5,129.5 204.5,125.9 208.5,120.6 212.5,116.2 216.5,111.8 220.5,107.5 224.5,103.5 228.5,99.5 232.5,96.8 236.5,94.3 240.5,92.8 244.5,91.5 248.5,91.5 252.5,91.5 256.5,91.6 260.5,91.8 264.5,92.0 268.5,92.0 272.5,92.0 276.5,93.0 280.5,94.7 284.5,96.1 288.5,97.5 292.5,100.2 296.5,103.6 300.5,106.6 304.5,109.6 308.5,114.1 312.5,118.9 316.5,123.9 320.5,128.6 324.5,134.0 328.5,141.3 332.5,147.6 336.5,154.2 340.5,159.2 344.5,164.9 348.5,169.9 352.5,175.0 356.5,179.5 360.5,184.8 364.5,189.2 368.5,194.0 372.5,198.4 376.5,204.2 380.5,207.7 384.5,211.5 388.5,214.0 392.5,216.1 396.5,218.6 400.5,219.9 404.5,220.7 408.5,220.5 412.5,219.0 416.5,216.9 420.5,214.8 424.5,212.9 428.5,210.7 432.5,209.5 436.5,208.7 440.5,206.9 444.5,204.7 448.5,203.2 452.5,201.8 456.5,200.4 460.5,198.1 464.5,195.8 468.5,193.4 472.5,191.5 476.5,189.6 480.5,187.8 484.5,185.9 488.5,183.7 492.5,181.0 496.5,182.8 500.5,184.7 504.5,186.7 508.5,187.1 512.5,188.2 516.5,188.6 520.5,188.7 524.5,190.1 528.5,191.0 532.5,192.0 536.5,191.7 540.5,191.5 544.5,191.5 548.5,192.2 552.5,192.7 556.5,192.5 560.5,193.4 564.5,193.5 568.5,193.3 572.5,194.4 576.5,196.4 580.5,195.9 584.5,194.6 588.5,192.8 592.5,192.3 596.5,190.9 600.5,189.3 604.5,188.6 608.5,186.8 612.5,186.1 616.5,185.7 620.5,186.8 624.5,187.5 628.5,188.2 632.5,191.2 636.5,193.7 640.5,196.2 644.5,198.3 648.5,200.8 652.5,203.0 656.5,204.8 660.5,206.5 664.5,208.7 668.5,212.2 672.5,216.0 676.5,219.3 680.5,223.8 684.5,228.2 688.5,231.8 692.5,236.5 696.5,240.5 700.5,245.0 704.5,247.7 708.5,250.1 712.5,252.4 716.5,251.6 720.5,251.1 724.5,250.6 728.5,250.5 732.5,250.6 736.5,251.0 740.5,250.5 744.5,249.7 748.5,248.5 752.5,245.8 756.5,243.7 760.5,242.2 764.5,239.9 768.5,237.6 772.5,234.6 776.5,230.9 780.5,227.8 784.5,223.2 788.5,220.0 792.5,217.7 796.5,216.6 800.5,216.7 804.5,216.1 808.5,216.9 812.5,217.1 816.5,216.5 820.5,217.3 824.5,217.9 828.5,218.2 832.5,218.0 836.5,218.7 840.5,219.1 844.5,219.3 848.5,220.5 852.5,221.2 856.5,222.2 860.5,223.3 864.5,224.7 868.5,229.6 872.5,232.6 876.5,234.4 880.5,238.1 884.5,240.5 888.5,243.7 892.5,244.8 896.5,245.1 900.5,246.3 904.5,244.6 908.5,244.2 912.5,243.7 916.5,242.9 920.5,245.3 924.5,246.7 928.5,249.1 932.5,251.4 936.5,254.4 940.5,257.8 944.5,260.2 948.5,260.6 952.5,259.4 956.5,257.4 960.5,257.8 964.5,255.3 968.5,253.8 972.5,255.1 976.5,255.2 980.5,257.8 984.5,260.5 988.5,265.1 992.5,270.0 996.5,275.9 1000.5,280.5 1004.5,280.8 1008.5,282.9 1012.5,283.9 1016.5,284.7 1020.5,284.5 1024.5,285.1 1028.5,288.0 1032.5,292.9 1036.5,295.5" fill="none" stroke="#0000f0" stroke-width="1" shape-rendering="crispEdges"/>
<polyline points="4.5,473.6 8.5,471.4 12.5,476.4 16.5,472.4 20.5,473.6 24.5,477.0 28.5,494.0 32.5,495.0 36.5,495.6 40.5,502.0 44.5,500.0 48.5,505.0 52.5,512.4 56.5,506.0 60.5,493.6 64.5,489.0 68.5,492.4 72.5,491.0 76.5,490.4 80.5,492.4 84.5,488.4 88.5,495.6 92.5,492.4 96.5,495.0 100.5,493.0 104.5,497.0 108.5,496.4 112.5,499.6 116.5,507.0 120.5,505.0 124.5,523.0 128.5,512.0 132.5,506.0 136.5,503.6 140.5,496.4 144.5,498.4 148.5,496.4 152.5,495.6 156.5,496.0 160.5,484.4 164.5,484.0 168.5,482.4 172.5,490.4 176.5,487.6 180.5,494.0 184.5,491.6 188.5,491.0 192.5,482.0 196.5,481.5 200.5,482.2 204.5,484.0 208.5,482.5 212.5,481.5 216.5,482.5 220.5,479.3 224.5,484.4 228.5,490.0 232.5,491.9 236.5,499.3 240.5,499.3 244.5,487.4 248.5,498.8 252.5,496.7 256.5,505.2 260.5,499.7 264.5,502.2 268.5,499.7 272.5,502.2 276.5,500.3 280.5,501.2 284.5,499.3 288.5,500.0 292.5,494.8 296.5,508.9 300.5,507.4 304.5,513.0 308.5,512.1 312.5,511.6 316.5,517.0 320.5,519.3 324.5,522.2 328.5,523.4 332.5,524.4 336.5,524.4 340.5,523.4 344.5,520.7 348.5,519.0 352.5,513.3 356.5,513.3 360.5,515.1 364.5,508.6 368.5,509.6 372.5,508.6 376.5,511.1 380.5,513.0 384.5,514.5 388.5,511.1 392.5,507.7 396.5,507.4 400.5,509.6 404.5,510.4 408.5,507.7 412.5,493.8 416.5,492.3 420.5,491.4 424.5,491.4 428.5,487.4 432.5,496.3 436.5,497.3 440.5,487.4 444.5,487.4 448.5,486.4 452.5,490.4 456.5,489.3 460.5,484.4 464.5,486.4 468.5,489.3 472.5,492.3 476.5,488.4 480.5,492.3 484.5,494.4 488.5,490.4 492.5,484.9 496.5,515.1 500.5,516.3 504.5,516.3 508.5,501.5 512.5,501.5 516.5,501.2 520.5,500.3 524.5,502.2 528.5,498.8 532.5,496.7 536.5,488.1 540.5,489.3 544.5,486.7 548.5,495.9 552.5,496.3 556.5,491.4 560.5,498.2 564.5,495.3 568.5,492.9 572.5,501.5 576.5,503.7 580.5,509.2 584.5,504.1 588.5,497.8 592.5,495.9 596.5,490.9 600.5,490.4 604.5,495.3 608.5,489.6 612.5,495.3 616.5,496.7 620.5,500.7 624.5,498.8 628.5,495.6 632.5,516.0 636.5,511.6 640.5,507.4 644.5,508.1 648.5,509.2 652.5,504.4 656.5,508.1 660.5,509.6 664.5,514.8 668.5,519.3 672.5,514.1 676.5,509.6 680.5,512.1 684.5,511.1 688.5,508.6 692.5,510.4 696.5,510.7 700.5,515.1 704.5,502.2 708.5,496.7 712.5,495.3 716.5,495.3 720.5,493.3 724.5,490.4 728.5,494.4 732.5,497.0 736.5,494.8 740.5,492.3 744.5,493.3 748.5,499.3 752.5,493.3 756.5,493.3 760.5,495.3 764.5,492.3 768.5,489.6 772.5,483.0 776.5,480.4 780.5,485.5 784.5,481.5 788.5,482.2 792.5,483.0 796.5,493.8 800.5,505.2 804.5,498.5 808.5,504.1 812.5,503.3 816.5,500.3 820.5,507.4 824.5,502.2 828.5,501.2 832.5,501.5 836.5,504.1 840.5,502.7 844.5,499.7 848.5,505.2 852.5,500.3 856.5,495.3 860.5,491.4 864.5,499.3 868.5,515.6 872.5,504.1 876.5,496.3 880.5,507.7 884.5,509.6 888.5,508.1 892.5,501.5 896.5,498.5 900.5,499.3 904.5,490.8 908.5,494.4 912.5,493.3 916.5,492.3 920.5,508.1 924.5,502.7 928.5,505.2 932.5,507.4 936.5,507.4 940.5,506.2 944.5,500.3 948.5,493.8 952.5,499.3 956.5,489.6 960.5,494.4 964.5,494.8 968.5,499.3 972.5,508.1 976.5,498.8 980.5,504.1 984.5,505.3 988.5,506.3 992.5,509.1 996.5,510.7 1000.5,504.0 1004.5,501.6 1008.5,503.3 1012.5,502.4 1016.5,503.3 1020.5,498.4 1024.5,502.0 1028.5,506.0 1032.5,508.3 1036.5,503.3" fill="none" stroke="#1e90ff" stroke-width="1" shape-rendering="crispEdges"/>
<g shape-rendering="crispEdges">
<rect x="3.5" y="32.5" width="1301" height="335" fill="none" stroke="#000" stroke-width="1"/>
<rect x="3.5" y="369.5" width="1301" height="70" fill="none" stroke="#000" stroke-width="1"/>
<rect x="3.5" y="441.5" width="1301" height="112" fill="none" stroke="#000" stroke-width="1"/>
<rect x="1305" y="34" width="2" height="1" fill="#000"/>
<text transform="translate(1310,38) scale(0.91,1)" class="ax">1.01440</text>
<rect x="1305" y="67" width="2" height="1" fill="#000"/>
<text transform="translate(1310,71) scale(0.91,1)" class="ax">1.01080</text>
<rect x="1305" y="100" width="2" height="1" fill="#000"/>
<text transform="translate(1310,104) scale(0.91,1)" class="ax">1.00720</text>
<rect x="1305" y="133" width="2" height="1" fill="#000"/>
<text transform="translate(1310,137) scale(0.91,1)" class="ax">1.00360</text>
<rect x="1305" y="166" width="2" height="1" fill="#000"/>
<text transform="translate(1310,170) scale(0.91,1)" class="ax">1.00000</text>
<rect x="1305" y="199" width="2" height="1" fill="#000"/>
<text transform="translate(1310,203) scale(0.91,1)" class="ax">0.99640</text>
<rect x="1305" y="232" width="2" height="1" fill="#000"/>
<text transform="translate(1310,236) scale(0.91,1)" class="ax">0.99270</text>
<rect x="1305" y="265" width="2" height="1" fill="#000"/>
<text transform="translate(1310,269) scale(0.91,1)" class="ax">0.98910</text>
<rect x="1305" y="298" width="2" height="1" fill="#000"/>
<text transform="translate(1310,302) scale(0.91,1)" class="ax">0.98550</text>
<rect x="1305" y="331" width="2" height="1" fill="#000"/>
<text transform="translate(1310,335) scale(0.91,1)" class="ax">0.98190</text>
<rect x="1305" y="364" width="2" height="1" fill="#000"/>
<text transform="translate(1310,368) scale(0.91,1)" class="ax">0.97830</text>
<rect x="1306" y="311" width="41" height="11" fill="#000"/>
<text transform="translate(1310,320) scale(0.91,1)" class="ax" style="fill:#fff">0.98354</text>
<rect x="1305" y="370" width="2" height="1" fill="#000"/>
<rect x="1305" y="397" width="2" height="1" fill="#000"/>
<rect x="1305" y="438" width="2" height="1" fill="#000"/>
<text transform="translate(1308,380) scale(0.91,1)" class="ax">0.002492</text>
<text transform="translate(1308,401) scale(0.91,1)" class="ax">0.00</text>
<text transform="translate(1308,436) scale(0.91,1)" class="ax">-0.003913</text>
<rect x="1305" y="443" width="2" height="1" fill="#000"/>
<rect x="1305" y="552" width="2" height="1" fill="#000"/>
<text transform="translate(1308,453) scale(0.91,1)" class="ax">100</text>
<text transform="translate(1308,480) scale(0.91,1)" class="ax">70</text>
<text transform="translate(1308,524) scale(0.91,1)" class="ax">30</text>
<text transform="translate(1308,551) scale(0.91,1)" class="ax">0</text>
<text transform="translate(19,44) scale(0.925,1)" class="ax">USDCHF,H4&#160; 0.98089 0.98387 0.98045 0.98354</text>
<text transform="translate(8,382) scale(0.91,1)" class="ax">MACD(12,26,9) -0.001638 -0.001677</text>
<text transform="translate(8,454) scale(0.91,1)" class="ax">RSI(14) 45.6883</text>
<line x1="5" y1="475.5" x2="1304" y2="475.5" stroke="#c0c0c0" stroke-width="1" stroke-dasharray="3,3"/>
<line x1="5" y1="519.5" x2="1304" y2="519.5" stroke="#c0c0c0" stroke-width="1" stroke-dasharray="3,3"/>
<rect x="4" y="554" width="1" height="3" fill="#000"/>
<text transform="translate(3,567) scale(0.91,1)" class="ax">31 Oct 2018</text>
<rect x="68" y="554" width="1" height="3" fill="#000"/>
<text transform="translate(67,567) scale(0.91,1)" class="ax">5 Nov 07:00</text>
<rect x="132" y="554" width="1" height="3" fill="#000"/>
<text transform="translate(131,567) scale(0.91,1)" class="ax">7 Nov 23:00</text>
<rect x="196" y="554" width="1" height="3" fill="#000"/>
<text transform="translate(195,567) scale(0.91,1)" class="ax">12 Nov 15:00</text>
<rect x="260" y="554" width="1" height="3" fill="#000"/>
<text transform="translate(259,567) scale(0.91,1)" class="ax">15 Nov 04:00</text>
<rect x="324" y="554" width="1" height="3" fill="#000"/>
<text transform="translate(323,567) scale(0.91,1)" class="ax">19 Nov 23:00</text>
<rect x="388" y="554" width="1" height="3" fill="#000"/>
<text transform="translate(387,567) scale(0.91,1)" class="ax">22 Nov 15:00</text>
<rect x="452" y="554" width="1" height="3" fill="#000"/>
<text transform="translate(451,567) scale(0.91,1)" class="ax">27 Nov 04:00</text>
<rect x="516" y="554" width="1" height="3" fill="#000"/>
<text transform="translate(515,567) scale(0.91,1)" class="ax">29 Nov 23:00</text>
<rect x="580" y="554" width="1" height="3" fill="#000"/>
<text transform="translate(579,567) scale(0.91,1)" class="ax">4 Dec 15:00</text>
<rect x="644" y="554" width="1" height="3" fill="#000"/>
<text transform="translate(643,567) scale(0.91,1)" class="ax">7 Dec 04:00</text>
<rect x="708" y="554" width="1" height="3" fill="#000"/>
<text transform="translate(707,567) scale(0.91,1)" class="ax">11 Dec 23:00</text>
<rect x="772" y="554" width="1" height="3" fill="#000"/>
<text transform="translate(771,567) scale(0.91,1)" class="ax">14 Dec 15:00</text>
<rect x="836" y="554" width="1" height="3" fill="#000"/>
<text transform="translate(835,567) scale(0.91,1)" class="ax">19 Dec 04:00</text>
<rect x="900" y="554" width="1" height="3" fill="#000"/>
<text transform="translate(899,567) scale(0.91,1)" class="ax">21 Dec 23:00</text>
<rect x="964" y="554" width="1" height="3" fill="#000"/>
<text transform="translate(963,567) scale(0.91,1)" class="ax">27 Dec 11:00</text>
<rect x="1028" y="554" width="1" height="3" fill="#000"/>
<text transform="translate(1027,567) scale(0.91,1)" class="ax">1 Jan 00:00</text>
</g>
</svg>
<!-- chart header -->
<svg class="a" style="left:0;top:30px" width="240" height="20"><path d="M7,13 L10.5,9 L14,13 Z" fill="#000"/></svg>
<!-- trade panel -->
<div class="a" style="left:5px;top:50px;width:223px;height:68px;background:#fff"></div>
<div class="a" style="left:7px;top:52px;width:52px;height:26px;background:linear-gradient(#f65c5c,#e03a3a);border:1px solid #b80000;border-bottom:none"></div>
<div class="a" style="left:7px;top:76px;width:109px;height:40px;background:linear-gradient(#dc2d2d,#b30303);border:1px solid #a00000;border-top:none"></div>
<div class="a" style="left:11px;top:76px;width:45px;height:1px;background:#9a0000"></div>
<div class="a" style="left:11px;top:77px;width:45px;height:1px;background:#e86060"></div>
<div class="a" style="left:118px;top:76px;width:108px;height:40px;background:linear-gradient(#dc2d2d,#b30303);border:1px solid #a00000;border-top:none"></div>
<div class="a" style="left:174px;top:52px;width:52px;height:26px;background:linear-gradient(#f65c5c,#e03a3a);border:1px solid #b80000;border-bottom:none"></div>
<div class="a" style="left:178px;top:76px;width:44px;height:1px;background:#9a0000"></div>
<div class="a" style="left:178px;top:77px;width:44px;height:1px;background:#e86060"></div>
<div class="a" style="left:7px;top:76px;width:1px;height:40px;background:#a00000"></div>
<!-- lot spin -->
<div class="a" style="left:61px;top:52px;width:111px;height:22px;background:#fff;border:1px solid #a8a8a8"></div>
<div class="a" style="left:62px;top:53px;width:21px;height:20px;background:linear-gradient(#f3f3f3 0%,#ececec 45%,#dedede 50%,#d2d2d2 100%);border-right:1px solid #a8a8a8;box-shadow:inset 1px 1px 0 #fafafa"></div>
<div class="a" style="left:150px;top:53px;width:21px;height:20px;background:linear-gradient(#f3f3f3 0%,#ececec 45%,#dedede 50%,#d2d2d2 100%);border-left:1px solid #a8a8a8;box-shadow:inset 1px 1px 0 #fafafa"></div>
<svg class="a" style="left:60px;top:50px" width="115" height="25"><path d="M9,11.5 L15,11.5 L12,14.5 Z" fill="#4a5ec4"/><path d="M98,14.5 L104,14.5 L101,11.5 Z" fill="#4a5ec4"/></svg>
<div class="a" style="left:121px;top:56px;width:26px;text-align:right;font-size:12.4px;line-height:14px;color:#000">0.01</div>
<div class="a" style="left:19px;top:57px;font-size:11.3px;line-height:12px;color:#ffe8e8">SELL</div>
<div class="a" style="left:186px;top:57px;font-size:11.5px;line-height:12px;color:#ffe8e8">BUY</div>
<div class="a" style="left:27px;top:97px;font-size:12.6px;font-weight:bold;line-height:13px;color:#fff">0.98</div>
<div class="a" style="left:54px;top:78px;font-size:34.5px;line-height:35px;color:#fff;transform:scaleX(0.955);transform-origin:0 0">35</div>
<div class="a" style="left:94px;top:81px;font-size:11.8px;font-weight:bold;line-height:12px;color:#fff">4</div>
<div class="a" style="left:137px;top:97px;font-size:12.6px;font-weight:bold;line-height:13px;color:#fff">0.98</div>
<div class="a" style="left:166px;top:78px;font-size:34.5px;line-height:35px;color:#fff;transform:scaleX(0.955);transform-origin:0 0">39</div>
<div class="a" style="left:204px;top:81px;font-size:12.2px;font-weight:bold;line-height:12px;color:#fff">2</div>
<!-- tabs -->
<div class="tab" style="left:17px">EURUSD,H4</div>
<div class="sep" style="left:97px"></div>
<div class="tab" style="left:108px">AUDUSD,H4</div>
<div class="a" style="left:189px;top:576px;width:88px;height:19px;background:#fff;border:1px solid #000;border-top:none"></div>
<div class="tab" style="left:199px;color:#000">USDCHF,H4</div>
<div class="tab" style="left:288px">USDCAD,Daily</div>
<div class="sep" style="left:381px"></div>
<div class="tab" style="left:391px">USDCNH,H4</div>
<div class="sep" style="left:473px"></div>
<div class="tab" style="left:483px">USDJPY,H4</div>
<div class="sep" style="left:557px"></div>
<div class="tab" style="left:568px">XAUUSD,Daily</div>
<div class="sep" style="left:662px"></div>
<div class="tab" style="left:672px">GBPUSD,M15</div>
<div class="sep" style="left:762px"></div>
<div class="tab" style="left:772px">SP500,H1</div>
<div class="sep" style="left:838px"></div>
<svg class="a" style="left:1315px;top:578px" width="35" height="15"><path d="M8.5,3.5 L8.5,10.5 L4.5,7 Z" fill="#8a8a8a"/><path d="M24,3.5 L24,10.5 L28,7 Z" fill="#8a8a8a"/></svg>
</body></html>
